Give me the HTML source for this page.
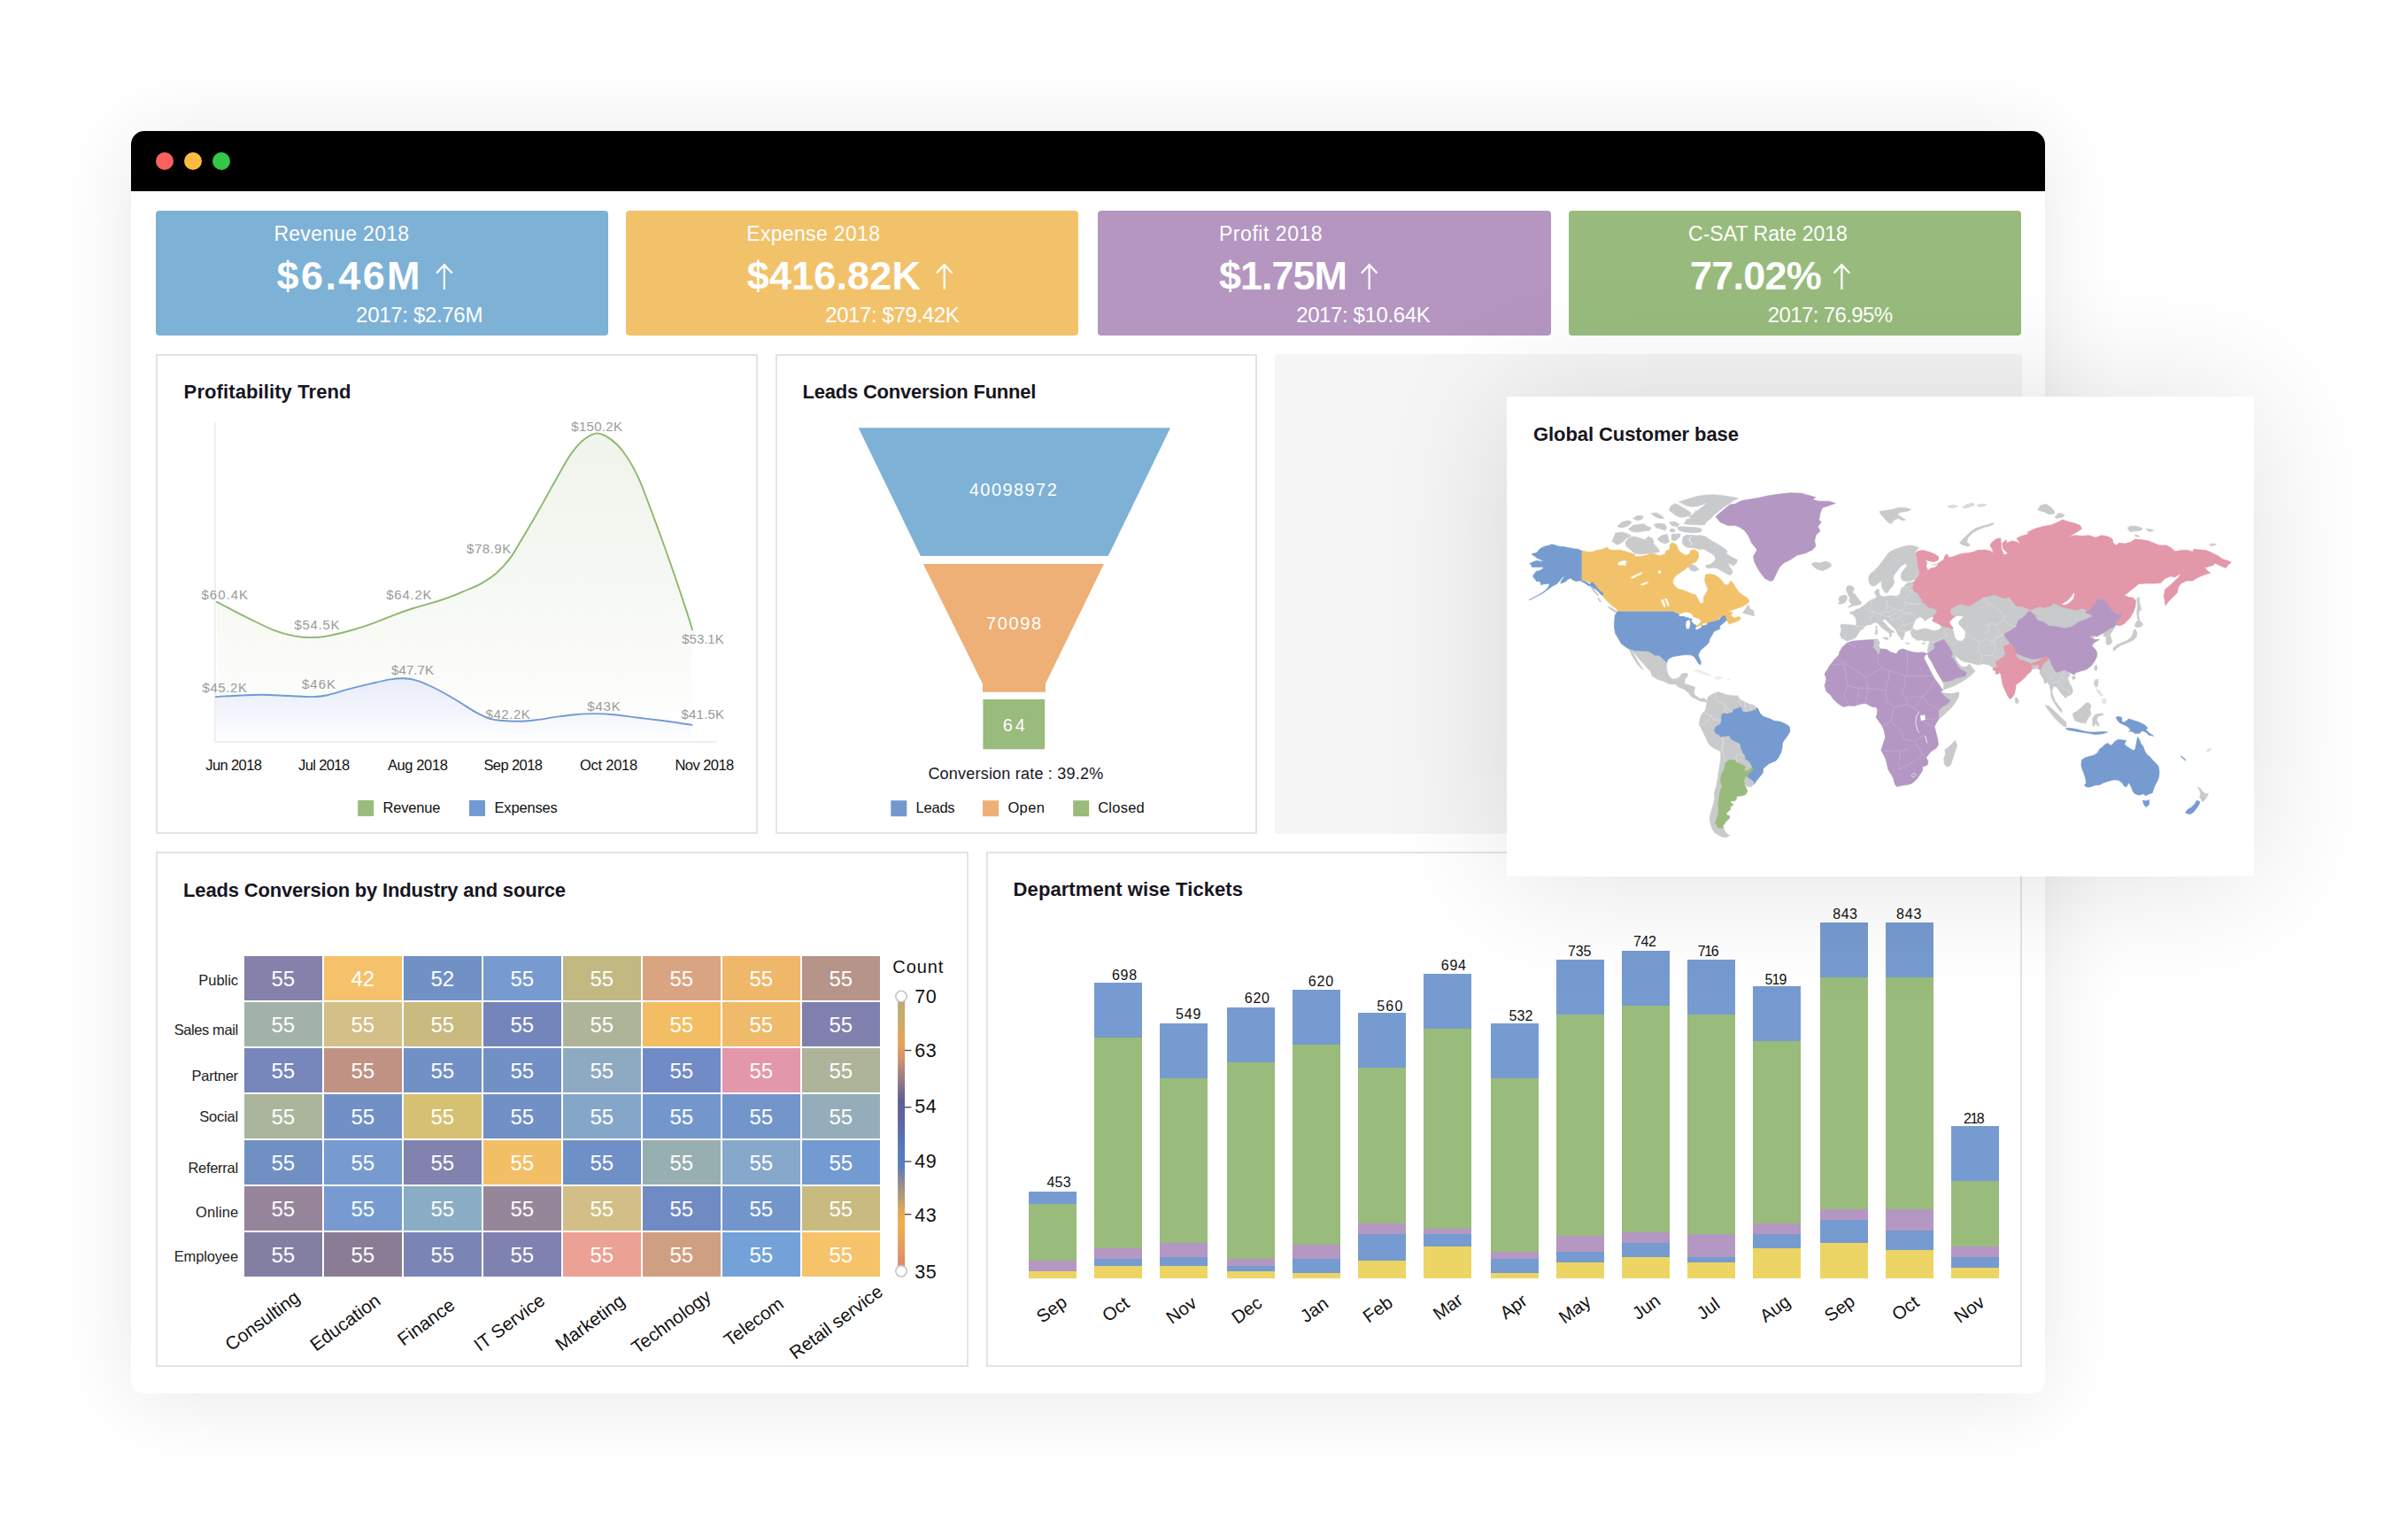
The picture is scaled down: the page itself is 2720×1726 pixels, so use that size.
<!DOCTYPE html>
<html lang="en"><head><meta charset="utf-8"><title>Dashboard</title>
<style>
html,body{margin:0;padding:0;background:#fff;}
body{width:2720px;height:1726px;position:relative;overflow:hidden;font-family:'Liberation Sans',Arial,sans-serif;}
.abs{position:absolute;box-sizing:border-box;}
#win{left:148px;top:148px;width:2162px;height:1425.5px;border-radius:15px;background:#fff;box-shadow:0 6px 95px rgba(0,0,0,0.095);}
#bar{left:148px;top:148px;width:2162px;height:68px;border-radius:15px 15px 0 0;background:#000;}
.dot{width:20px;height:20px;border-radius:50%;top:172px;}
.card{top:238px;height:141px;border-radius:4px;}
.panel{border:2px solid #e3e3e3;background:#fff;}
#grey{left:1440px;top:400px;width:844px;height:541.5px;background:#f5f5f5;}
#mapcard{left:1702px;top:448px;width:844px;height:542px;background:#fff;box-shadow:0 2px 140px rgba(0,0,0,0.12);}
svg text{font-family:'Liberation Sans',Arial,sans-serif;}
</style></head><body>
<div id="win" class="abs"></div>
<div id="bar" class="abs"></div>
<div class="abs dot" style="left:176px;background:#fc615d"></div>
<div class="abs dot" style="left:208px;background:#fdbc40"></div>
<div class="abs dot" style="left:240px;background:#34c749"></div>
<div class="abs card" style="left:176px;width:511px;background:#7eb1d6"></div>
<div class="abs card" style="left:707px;width:511px;background:#f2c26b"></div>
<div class="abs card" style="left:1240px;width:511.5px;background:#b496c1"></div>
<div class="abs card" style="left:1772px;width:511px;background:#98bb7d"></div>
<div class="abs panel" style="left:176px;top:400px;width:680px;height:541.5px"></div>
<div class="abs panel" style="left:876px;top:400px;width:544px;height:541.5px"></div>
<div id="grey" class="abs"></div>
<div class="abs panel" style="left:176px;top:962px;width:918px;height:581.5px"></div>
<div class="abs panel" style="left:1114px;top:962px;width:1170px;height:581.5px"></div>
<svg class="abs" style="left:0;top:0" width="2720" height="1726" viewBox="0 0 2720 1726">
<text x="309.4" y="272.0" font-size="23" fill="#fff" textLength="152.7" lengthAdjust="spacing">Revenue 2018</text>
<text x="312.6" y="326.8" font-size="45" fill="#fff" font-weight="700" textLength="162.0" lengthAdjust="spacing">$6.46M</text>
<text x="402.1" y="364.2" font-size="24" fill="#fff" textLength="143.3" lengthAdjust="spacing">2017: $2.76M</text>
<path d="M501.9 327 V299.5 M493.1 308.5 L501.9 299.2 L510.7 308.5" fill="none" stroke="#fff" stroke-width="2.2" stroke-linejoin="miter"/>
<text x="843.2" y="272.0" font-size="23" fill="#fff" textLength="150.8" lengthAdjust="spacing">Expense 2018</text>
<text x="843.7" y="326.8" font-size="45" fill="#fff" font-weight="700" textLength="196.3" lengthAdjust="spacing">$416.82K</text>
<text x="932.2" y="364.2" font-size="24" fill="#fff" textLength="151.5" lengthAdjust="spacing">2017: $79.42K</text>
<path d="M1066.7 327 V299.5 M1057.9 308.5 L1066.7 299.2 L1075.5 308.5" fill="none" stroke="#fff" stroke-width="2.2" stroke-linejoin="miter"/>
<text x="1377.0" y="272.0" font-size="23" fill="#fff" textLength="116.6" lengthAdjust="spacing">Profit 2018</text>
<text x="1377.0" y="326.8" font-size="45" fill="#fff" font-weight="700" textLength="145.0" lengthAdjust="spacing">$1.75M</text>
<text x="1464.2" y="364.2" font-size="24" fill="#fff" textLength="151.5" lengthAdjust="spacing">2017: $10.64K</text>
<path d="M1546.7 327 V299.5 M1537.9 308.5 L1546.7 299.2 L1555.5 308.5" fill="none" stroke="#fff" stroke-width="2.2" stroke-linejoin="miter"/>
<text x="1907.0" y="272.0" font-size="23" fill="#fff" textLength="179.9" lengthAdjust="spacing">C-SAT Rate 2018</text>
<text x="1909.0" y="326.8" font-size="45" fill="#fff" font-weight="700" textLength="148.7" lengthAdjust="spacing">77.02%</text>
<text x="1996.7" y="364.2" font-size="24" fill="#fff" textLength="141.5" lengthAdjust="spacing">2017: 76.95%</text>
<path d="M2080.4 327 V299.5 M2071.6 308.5 L2080.4 299.2 L2089.2 308.5" fill="none" stroke="#fff" stroke-width="2.2" stroke-linejoin="miter"/>
<text x="207.6" y="450.0" font-size="22" fill="#17151f" font-weight="700" textLength="188.9" lengthAdjust="spacing">Profitability Trend</text>
<defs><linearGradient id="gg" x1="0" y1="489" x2="0" y2="838" gradientUnits="userSpaceOnUse"><stop offset="0" stop-color="#f0f4ec"/><stop offset="0.55" stop-color="#f7f9f4"/><stop offset="1" stop-color="#ffffff"/></linearGradient><linearGradient id="gb" x1="0" y1="766" x2="0" y2="838" gradientUnits="userSpaceOnUse"><stop offset="0" stop-color="#e8ecf9"/><stop offset="0.6" stop-color="#f4f6fc"/><stop offset="1" stop-color="#ffffff"/></linearGradient></defs>
<path d="M245.0 679.9C248.6 681.8 259.5 687.6 266.8 691.4C274.1 695.2 281.6 699.0 289.0 702.5C296.4 706.0 303.9 709.9 311.3 712.6C318.7 715.3 326.8 717.4 333.5 718.6C340.2 719.9 345.4 720.1 351.3 720.1C357.2 720.1 360.9 720.1 369.1 718.6C377.3 717.1 391.4 713.5 400.3 711.0C409.2 708.5 415.1 706.4 422.5 703.7C429.9 701.0 437.4 697.6 444.8 694.8C452.2 692.0 459.6 689.4 467.0 687.0C474.4 684.6 481.9 683.0 489.3 680.7C496.7 678.4 505.2 675.6 511.5 673.2C517.8 670.8 521.9 668.7 527.0 666.5C532.1 664.3 536.8 662.9 542.3 659.8C547.8 656.7 554.5 652.8 560.0 648.0C565.5 643.2 571.1 637.0 575.6 631.3C580.1 625.5 581.2 622.8 586.8 613.5C592.4 604.2 601.6 588.7 609.0 575.7C616.4 562.7 625.4 546.1 631.3 535.7C637.2 525.3 640.1 519.7 644.6 513.4C649.1 507.1 653.2 501.8 658.0 497.8C662.8 493.8 668.3 490.0 673.5 489.6C678.7 489.2 683.9 492.0 689.1 495.6C694.3 499.2 699.5 504.1 704.7 511.2C709.9 518.2 715.5 527.9 720.3 537.9C725.1 547.9 728.8 558.7 733.6 571.3C738.4 583.9 744.0 599.0 749.2 613.5C754.4 628.0 760.3 645.0 764.8 658.0C769.2 671.0 773.0 682.5 775.9 691.4C778.8 700.3 781.1 708.1 782.1 711.4L782.1 837 L245 837 Z" fill="url(#gg)"/>
<path d="M243.9 787.1C248.5 786.8 262.6 785.9 271.3 785.5C280.0 785.1 286.8 784.6 295.9 784.7C305.0 784.8 316.5 785.6 326.1 786.0C335.7 786.4 346.2 787.2 353.5 787.1C360.8 787.0 363.5 786.6 369.9 785.2C376.3 783.8 383.7 781.1 391.9 778.9C400.1 776.7 411.1 774.0 419.3 772.1C427.5 770.2 435.0 768.4 441.2 767.4C447.4 766.4 451.3 766.1 456.3 766.3C461.3 766.5 465.6 767.0 471.3 768.8C477.0 770.6 483.2 773.4 490.5 777.0C497.8 780.6 507.4 786.1 515.2 790.7C523.0 795.3 530.7 800.9 537.1 804.4C543.5 807.9 548.6 810.2 553.6 811.8C558.6 813.4 562.3 813.5 567.3 814.0C572.3 814.5 577.3 814.9 583.7 814.8C590.1 814.7 598.3 814.0 605.6 813.2C612.9 812.4 620.3 810.9 627.6 809.9C634.9 808.9 642.2 807.8 649.5 807.2C656.8 806.6 664.1 806.1 671.4 806.1C678.7 806.1 685.1 806.4 693.3 807.2C701.5 808.0 711.6 809.6 720.8 810.7C729.9 811.8 740.9 813.1 748.2 814.0C755.5 814.9 759.0 815.4 764.6 816.2C770.2 817.0 778.8 818.5 781.6 818.9L781.6 837 L243.9 837 Z" fill="url(#gb)"/>
<path d="M242.9 477 V838 H810" fill="none" stroke="#eeeeee" stroke-width="2"/>
<path d="M245.0 679.9C248.6 681.8 259.5 687.6 266.8 691.4C274.1 695.2 281.6 699.0 289.0 702.5C296.4 706.0 303.9 709.9 311.3 712.6C318.7 715.3 326.8 717.4 333.5 718.6C340.2 719.9 345.4 720.1 351.3 720.1C357.2 720.1 360.9 720.1 369.1 718.6C377.3 717.1 391.4 713.5 400.3 711.0C409.2 708.5 415.1 706.4 422.5 703.7C429.9 701.0 437.4 697.6 444.8 694.8C452.2 692.0 459.6 689.4 467.0 687.0C474.4 684.6 481.9 683.0 489.3 680.7C496.7 678.4 505.2 675.6 511.5 673.2C517.8 670.8 521.9 668.7 527.0 666.5C532.1 664.3 536.8 662.9 542.3 659.8C547.8 656.7 554.5 652.8 560.0 648.0C565.5 643.2 571.1 637.0 575.6 631.3C580.1 625.5 581.2 622.8 586.8 613.5C592.4 604.2 601.6 588.7 609.0 575.7C616.4 562.7 625.4 546.1 631.3 535.7C637.2 525.3 640.1 519.7 644.6 513.4C649.1 507.1 653.2 501.8 658.0 497.8C662.8 493.8 668.3 490.0 673.5 489.6C678.7 489.2 683.9 492.0 689.1 495.6C694.3 499.2 699.5 504.1 704.7 511.2C709.9 518.2 715.5 527.9 720.3 537.9C725.1 547.9 728.8 558.7 733.6 571.3C738.4 583.9 744.0 599.0 749.2 613.5C754.4 628.0 760.3 645.0 764.8 658.0C769.2 671.0 773.0 682.5 775.9 691.4C778.8 700.3 781.1 708.1 782.1 711.4" fill="none" stroke="#8cb86f" stroke-width="1.9" stroke-linecap="round"/>
<path d="M243.9 787.1C248.5 786.8 262.6 785.9 271.3 785.5C280.0 785.1 286.8 784.6 295.9 784.7C305.0 784.8 316.5 785.6 326.1 786.0C335.7 786.4 346.2 787.2 353.5 787.1C360.8 787.0 363.5 786.6 369.9 785.2C376.3 783.8 383.7 781.1 391.9 778.9C400.1 776.7 411.1 774.0 419.3 772.1C427.5 770.2 435.0 768.4 441.2 767.4C447.4 766.4 451.3 766.1 456.3 766.3C461.3 766.5 465.6 767.0 471.3 768.8C477.0 770.6 483.2 773.4 490.5 777.0C497.8 780.6 507.4 786.1 515.2 790.7C523.0 795.3 530.7 800.9 537.1 804.4C543.5 807.9 548.6 810.2 553.6 811.8C558.6 813.4 562.3 813.5 567.3 814.0C572.3 814.5 577.3 814.9 583.7 814.8C590.1 814.7 598.3 814.0 605.6 813.2C612.9 812.4 620.3 810.9 627.6 809.9C634.9 808.9 642.2 807.8 649.5 807.2C656.8 806.6 664.1 806.1 671.4 806.1C678.7 806.1 685.1 806.4 693.3 807.2C701.5 808.0 711.6 809.6 720.8 810.7C729.9 811.8 740.9 813.1 748.2 814.0C755.5 814.9 759.0 815.4 764.6 816.2C770.2 817.0 778.8 818.5 781.6 818.9" fill="none" stroke="#6f9bd8" stroke-width="1.9" stroke-linecap="round"/>
<text x="227.4" y="677.0" font-size="15" fill="#9a9a9a" textLength="52.7" lengthAdjust="spacing">$60.4K</text>
<text x="332.4" y="711.4" font-size="15" fill="#9a9a9a" textLength="51.2" lengthAdjust="spacing">$54.5K</text>
<text x="436.3" y="676.5" font-size="15" fill="#9a9a9a" textLength="51.2" lengthAdjust="spacing">$64.2K</text>
<text x="527.1" y="624.7" font-size="15" fill="#9a9a9a" textLength="50.1" lengthAdjust="spacing">$78.9K</text>
<text x="645.3" y="486.7" font-size="15" fill="#9a9a9a" textLength="57.6" lengthAdjust="spacing">$150.2K</text>
<text x="770.3" y="726.6" font-size="15" fill="#9a9a9a" textLength="47.4" lengthAdjust="spacing">$53.1K</text>
<text x="228.5" y="781.5" font-size="15" fill="#9a9a9a" textLength="50.5" lengthAdjust="spacing">$45.2K</text>
<text x="340.9" y="777.8" font-size="15" fill="#9a9a9a" textLength="38.2" lengthAdjust="spacing">$46K</text>
<text x="442.1" y="761.5" font-size="15" fill="#9a9a9a" textLength="47.9" lengthAdjust="spacing">$47.7K</text>
<text x="548.6" y="811.8" font-size="15" fill="#9a9a9a" textLength="50.2" lengthAdjust="spacing">$42.2K</text>
<text x="663.2" y="802.5" font-size="15" fill="#9a9a9a" textLength="37.6" lengthAdjust="spacing">$43K</text>
<text x="769.5" y="811.8" font-size="15" fill="#9a9a9a" textLength="48.6" lengthAdjust="spacing">$41.5K</text>
<text x="232.3" y="870.2" font-size="16.5" fill="#111" textLength="63.6" lengthAdjust="spacing">Jun 2018</text>
<text x="337.0" y="870.2" font-size="16.5" fill="#111" textLength="58.1" lengthAdjust="spacing">Jul 2018</text>
<text x="437.9" y="870.2" font-size="16.5" fill="#111" textLength="68.0" lengthAdjust="spacing">Aug 2018</text>
<text x="546.4" y="870.2" font-size="16.5" fill="#111" textLength="66.6" lengthAdjust="spacing">Sep 2018</text>
<text x="655.0" y="870.2" font-size="16.5" fill="#111" textLength="65.2" lengthAdjust="spacing">Oct 2018</text>
<text x="762.4" y="870.2" font-size="16.5" fill="#111" textLength="66.9" lengthAdjust="spacing">Nov 2018</text>
<rect x="404.2" y="903.9" width="18.0" height="18.0" fill="#98bc7c"/>
<text x="432.4" y="918.2" font-size="16.5" fill="#111" textLength="65.0" lengthAdjust="spacing">Revenue</text>
<rect x="530.0" y="903.9" width="18.0" height="18.0" fill="#7399d2"/>
<text x="558.5" y="918.2" font-size="16.5" fill="#111" textLength="71.3" lengthAdjust="spacing">Expenses</text>
<text x="906.6" y="450.0" font-size="22" fill="#17151f" font-weight="700" textLength="263.8" lengthAdjust="spacing">Leads Conversion Funnel</text>
<path d="M969.7 483.3 H1322 L1251.8 628 H1039.9 Z" fill="#7eb1d6"/>
<path d="M1042.8 637 H1247 L1180.9 772.5 V781.8 H1110 V772.5 Z" fill="#eeb077"/>
<rect x="1110.4" y="790.0" width="69.8" height="56.3" fill="#99bb7c"/>
<text x="1144.3" y="560.0" font-size="20" fill="#fff" text-anchor="middle" textLength="99.0" lengthAdjust="spacing">40098972</text>
<text x="1145.0" y="711.0" font-size="20" fill="#fff" text-anchor="middle" textLength="62.0" lengthAdjust="spacing">70098</text>
<text x="1145.3" y="826.2" font-size="20" fill="#fff" text-anchor="middle" textLength="25.0" lengthAdjust="spacing">64</text>
<text x="1048.4" y="880.0" font-size="18" fill="#17151f" textLength="197.8" lengthAdjust="spacing">Conversion rate : 39.2%</text>
<rect x="1006.3" y="904.2" width="18.0" height="18.0" fill="#7398cd"/>
<text x="1034.6" y="918.2" font-size="16.5" fill="#111" textLength="44.0" lengthAdjust="spacing">Leads</text>
<rect x="1110.0" y="904.2" width="18.0" height="18.0" fill="#eeb077"/>
<text x="1138.4" y="918.2" font-size="16.5" fill="#111" textLength="41.5" lengthAdjust="spacing">Open</text>
<rect x="1212.2" y="904.2" width="18.0" height="18.0" fill="#99bb7c"/>
<text x="1240.2" y="918.2" font-size="16.5" fill="#111" textLength="52.6" lengthAdjust="spacing">Closed</text>
<text x="207.1" y="1013.0" font-size="22" fill="#17151f" font-weight="700" textLength="432.0" lengthAdjust="spacing">Leads Conversion by Industry and source</text>
<rect x="276.0" y="1080.0" width="88.0" height="50.0" fill="#8482aa"/>
<rect x="366.0" y="1080.0" width="88.0" height="50.0" fill="#f5c26b"/>
<rect x="456.0" y="1080.0" width="88.0" height="50.0" fill="#7090c6"/>
<rect x="546.0" y="1080.0" width="88.0" height="50.0" fill="#779bd0"/>
<rect x="636.0" y="1080.0" width="88.0" height="50.0" fill="#c1b882"/>
<rect x="726.0" y="1080.0" width="88.0" height="50.0" fill="#d9a482"/>
<rect x="816.0" y="1080.0" width="88.0" height="50.0" fill="#efb76a"/>
<rect x="906.0" y="1080.0" width="88.0" height="50.0" fill="#b6948a"/>
<rect x="276.0" y="1132.0" width="88.0" height="50.0" fill="#a2b2a8"/>
<rect x="366.0" y="1132.0" width="88.0" height="50.0" fill="#d3bf88"/>
<rect x="456.0" y="1132.0" width="88.0" height="50.0" fill="#c9ba80"/>
<rect x="546.0" y="1132.0" width="88.0" height="50.0" fill="#7485bb"/>
<rect x="636.0" y="1132.0" width="88.0" height="50.0" fill="#aeb499"/>
<rect x="726.0" y="1132.0" width="88.0" height="50.0" fill="#f3bd63"/>
<rect x="816.0" y="1132.0" width="88.0" height="50.0" fill="#efba69"/>
<rect x="906.0" y="1132.0" width="88.0" height="50.0" fill="#7f80ad"/>
<rect x="276.0" y="1184.0" width="88.0" height="50.0" fill="#7787bb"/>
<rect x="366.0" y="1184.0" width="88.0" height="50.0" fill="#bf9283"/>
<rect x="456.0" y="1184.0" width="88.0" height="50.0" fill="#7090c6"/>
<rect x="546.0" y="1184.0" width="88.0" height="50.0" fill="#7090c6"/>
<rect x="636.0" y="1184.0" width="88.0" height="50.0" fill="#8eaac2"/>
<rect x="726.0" y="1184.0" width="88.0" height="50.0" fill="#708bc5"/>
<rect x="816.0" y="1184.0" width="88.0" height="50.0" fill="#e397aa"/>
<rect x="906.0" y="1184.0" width="88.0" height="50.0" fill="#aeb49a"/>
<rect x="276.0" y="1236.0" width="88.0" height="50.0" fill="#abb59c"/>
<rect x="366.0" y="1236.0" width="88.0" height="50.0" fill="#7090c6"/>
<rect x="456.0" y="1236.0" width="88.0" height="50.0" fill="#d6c072"/>
<rect x="546.0" y="1236.0" width="88.0" height="50.0" fill="#7090c6"/>
<rect x="636.0" y="1236.0" width="88.0" height="50.0" fill="#84a7c9"/>
<rect x="726.0" y="1236.0" width="88.0" height="50.0" fill="#7397cc"/>
<rect x="816.0" y="1236.0" width="88.0" height="50.0" fill="#7295cb"/>
<rect x="906.0" y="1236.0" width="88.0" height="50.0" fill="#95adba"/>
<rect x="276.0" y="1288.0" width="88.0" height="50.0" fill="#7090c4"/>
<rect x="366.0" y="1288.0" width="88.0" height="50.0" fill="#779bd0"/>
<rect x="456.0" y="1288.0" width="88.0" height="50.0" fill="#8282af"/>
<rect x="546.0" y="1288.0" width="88.0" height="50.0" fill="#f3bf66"/>
<rect x="636.0" y="1288.0" width="88.0" height="50.0" fill="#6f8fc7"/>
<rect x="726.0" y="1288.0" width="88.0" height="50.0" fill="#98afb2"/>
<rect x="816.0" y="1288.0" width="88.0" height="50.0" fill="#86a8ca"/>
<rect x="906.0" y="1288.0" width="88.0" height="50.0" fill="#749bd1"/>
<rect x="276.0" y="1340.0" width="88.0" height="50.0" fill="#96849b"/>
<rect x="366.0" y="1340.0" width="88.0" height="50.0" fill="#779bd0"/>
<rect x="456.0" y="1340.0" width="88.0" height="50.0" fill="#8aadc5"/>
<rect x="546.0" y="1340.0" width="88.0" height="50.0" fill="#96869a"/>
<rect x="636.0" y="1340.0" width="88.0" height="50.0" fill="#d2be86"/>
<rect x="726.0" y="1340.0" width="88.0" height="50.0" fill="#708ac4"/>
<rect x="816.0" y="1340.0" width="88.0" height="50.0" fill="#7295cb"/>
<rect x="906.0" y="1340.0" width="88.0" height="50.0" fill="#c9ba80"/>
<rect x="276.0" y="1392.0" width="88.0" height="50.0" fill="#837fa3"/>
<rect x="366.0" y="1392.0" width="88.0" height="50.0" fill="#8b7c95"/>
<rect x="456.0" y="1392.0" width="88.0" height="50.0" fill="#7a85b6"/>
<rect x="546.0" y="1392.0" width="88.0" height="50.0" fill="#7f82b0"/>
<rect x="636.0" y="1392.0" width="88.0" height="50.0" fill="#eba193"/>
<rect x="726.0" y="1392.0" width="88.0" height="50.0" fill="#cf9f82"/>
<rect x="816.0" y="1392.0" width="88.0" height="50.0" fill="#74a1d8"/>
<rect x="906.0" y="1392.0" width="88.0" height="50.0" fill="#f6c36b"/>
<g font-size="24" fill="#fff" text-anchor="middle">
<text x="319.8" y="1114.3">55</text>
<text x="409.8" y="1114.3">42</text>
<text x="499.8" y="1114.3">52</text>
<text x="589.8" y="1114.3">55</text>
<text x="679.8" y="1114.3">55</text>
<text x="769.8" y="1114.3">55</text>
<text x="859.8" y="1114.3">55</text>
<text x="949.8" y="1114.3">55</text>
<text x="319.8" y="1166.3">55</text>
<text x="409.8" y="1166.3">55</text>
<text x="499.8" y="1166.3">55</text>
<text x="589.8" y="1166.3">55</text>
<text x="679.8" y="1166.3">55</text>
<text x="769.8" y="1166.3">55</text>
<text x="859.8" y="1166.3">55</text>
<text x="949.8" y="1166.3">55</text>
<text x="319.8" y="1218.3">55</text>
<text x="409.8" y="1218.3">55</text>
<text x="499.8" y="1218.3">55</text>
<text x="589.8" y="1218.3">55</text>
<text x="679.8" y="1218.3">55</text>
<text x="769.8" y="1218.3">55</text>
<text x="859.8" y="1218.3">55</text>
<text x="949.8" y="1218.3">55</text>
<text x="319.8" y="1270.3">55</text>
<text x="409.8" y="1270.3">55</text>
<text x="499.8" y="1270.3">55</text>
<text x="589.8" y="1270.3">55</text>
<text x="679.8" y="1270.3">55</text>
<text x="769.8" y="1270.3">55</text>
<text x="859.8" y="1270.3">55</text>
<text x="949.8" y="1270.3">55</text>
<text x="319.8" y="1322.3">55</text>
<text x="409.8" y="1322.3">55</text>
<text x="499.8" y="1322.3">55</text>
<text x="589.8" y="1322.3">55</text>
<text x="679.8" y="1322.3">55</text>
<text x="769.8" y="1322.3">55</text>
<text x="859.8" y="1322.3">55</text>
<text x="949.8" y="1322.3">55</text>
<text x="319.8" y="1374.3">55</text>
<text x="409.8" y="1374.3">55</text>
<text x="499.8" y="1374.3">55</text>
<text x="589.8" y="1374.3">55</text>
<text x="679.8" y="1374.3">55</text>
<text x="769.8" y="1374.3">55</text>
<text x="859.8" y="1374.3">55</text>
<text x="949.8" y="1374.3">55</text>
<text x="319.8" y="1426.3">55</text>
<text x="409.8" y="1426.3">55</text>
<text x="499.8" y="1426.3">55</text>
<text x="589.8" y="1426.3">55</text>
<text x="679.8" y="1426.3">55</text>
<text x="769.8" y="1426.3">55</text>
<text x="859.8" y="1426.3">55</text>
<text x="949.8" y="1426.3">55</text>
</g>
<text x="224.3" y="1112.8" font-size="16.5" fill="#222" textLength="44.8" lengthAdjust="spacing">Public</text>
<text x="196.7" y="1169.1" font-size="16.5" fill="#222" textLength="72.4" lengthAdjust="spacing">Sales mail</text>
<text x="216.6" y="1220.6" font-size="16.5" fill="#222" textLength="52.5" lengthAdjust="spacing">Partner</text>
<text x="225.3" y="1266.6" font-size="16.5" fill="#222" textLength="43.8" lengthAdjust="spacing">Social</text>
<text x="212.4" y="1324.6" font-size="16.5" fill="#222" textLength="56.7" lengthAdjust="spacing">Referral</text>
<text x="221.1" y="1374.9" font-size="16.5" fill="#222" textLength="48.0" lengthAdjust="spacing">Online</text>
<text x="196.7" y="1424.7" font-size="16.5" fill="#222" textLength="72.4" lengthAdjust="spacing">Employee</text>
<text x="300.6" y="1497.6" font-size="20.8" fill="#111" text-anchor="middle" transform="rotate(-36.5 300.6 1497.6)">Consulting</text>
<text x="394.1" y="1499.6" font-size="20.8" fill="#111" text-anchor="middle" transform="rotate(-36.5 394.1 1499.6)">Education</text>
<text x="485.6" y="1499.1" font-size="20.8" fill="#111" text-anchor="middle" transform="rotate(-36.5 485.6 1499.1)">Finance</text>
<text x="579.6" y="1499.6" font-size="20.8" fill="#111" text-anchor="middle" transform="rotate(-36.5 579.6 1499.6)">IT Service</text>
<text x="670.6" y="1499.6" font-size="20.8" fill="#111" text-anchor="middle" transform="rotate(-36.5 670.6 1499.6)">Marketing</text>
<text x="762.3" y="1498.6" font-size="20.8" fill="#111" text-anchor="middle" transform="rotate(-36.5 762.3 1498.6)">Technology</text>
<text x="855.6" y="1498.6" font-size="20.8" fill="#111" text-anchor="middle" transform="rotate(-36.5 855.6 1498.6)">Telecom</text>
<text x="948.6" y="1499.1" font-size="20.8" fill="#111" text-anchor="middle" transform="rotate(-36.5 948.6 1499.1)">Retail service</text>
<text x="1008.3" y="1099.3" font-size="20" fill="#111" textLength="57.1" lengthAdjust="spacing">Count</text>
<defs><linearGradient id="hg" x1="0" y1="1125.5" x2="0" y2="1435.8" gradientUnits="userSpaceOnUse"><stop offset="0" stop-color="#b9aa7c"/><stop offset="0.08" stop-color="#c8ab6a"/><stop offset="0.17" stop-color="#e8a257"/><stop offset="0.22" stop-color="#d4966a"/><stop offset="0.3" stop-color="#9a7a85"/><stop offset="0.38" stop-color="#5f5e92"/><stop offset="0.46" stop-color="#5a67a3"/><stop offset="0.55" stop-color="#5578bb"/><stop offset="0.62" stop-color="#5a7db8"/><stop offset="0.67" stop-color="#8a8a95"/><stop offset="0.72" stop-color="#a89a7a"/><stop offset="0.78" stop-color="#e0a855"/><stop offset="0.83" stop-color="#f0b04a"/><stop offset="0.92" stop-color="#e59a62"/><stop offset="1" stop-color="#d9826c"/></linearGradient></defs>
<rect x="1014.1" y="1125.5" width="8.0" height="310.3" fill="url(#hg)"/>
<circle cx="1018" cy="1125.5" r="6.2" fill="#fff" stroke="#c4c4c4" stroke-width="1.6"/>
<circle cx="1018" cy="1435.8" r="6.2" fill="#fff" stroke="#c4c4c4" stroke-width="1.6"/>
<path d="M1022 1186.5 H1029.5" fill="none" stroke="#444" stroke-width="1.3"/>
<path d="M1022 1250.7 H1029.5" fill="none" stroke="#444" stroke-width="1.3"/>
<path d="M1022 1312 H1029.5" fill="none" stroke="#444" stroke-width="1.3"/>
<path d="M1022 1371.7 H1029.5" fill="none" stroke="#444" stroke-width="1.3"/>
<text x="1033.2" y="1133.3" font-size="21.5" fill="#111" textLength="24.4" lengthAdjust="spacing">70</text>
<text x="1033.2" y="1193.6" font-size="21.5" fill="#111" textLength="24.4" lengthAdjust="spacing">63</text>
<text x="1033.2" y="1257.0" font-size="21.5" fill="#111" textLength="24.4" lengthAdjust="spacing">54</text>
<text x="1033.2" y="1319.3" font-size="21.5" fill="#111" textLength="24.4" lengthAdjust="spacing">49</text>
<text x="1033.2" y="1379.5" font-size="21.5" fill="#111" textLength="24.4" lengthAdjust="spacing">43</text>
<text x="1033.2" y="1443.7" font-size="21.5" fill="#111" textLength="24.4" lengthAdjust="spacing">35</text>
<text x="1144.6" y="1012.0" font-size="22" fill="#17151f" font-weight="700" textLength="259.4" lengthAdjust="spacing">Department wise Tickets</text>
<g shape-rendering="crispEdges">
<rect x="1162.0" y="1346.0" width="54.0" height="14.0" fill="#769bd0"/>
<rect x="1162.0" y="1360.0" width="54.0" height="64.0" fill="#99bb7c"/>
<rect x="1162.0" y="1424.0" width="54.0" height="12.0" fill="#b497c2"/>
<rect x="1162.0" y="1436.0" width="54.0" height="8.0" fill="#ecd564"/>
<rect x="1236.0" y="1110.0" width="54.0" height="62.0" fill="#769bd0"/>
<rect x="1236.0" y="1172.0" width="54.0" height="238.0" fill="#99bb7c"/>
<rect x="1236.0" y="1410.0" width="54.0" height="12.0" fill="#b497c2"/>
<rect x="1236.0" y="1422.0" width="54.0" height="8.0" fill="#769bd0"/>
<rect x="1236.0" y="1430.0" width="54.0" height="14.0" fill="#ecd564"/>
<rect x="1310.0" y="1156.0" width="54.0" height="62.0" fill="#769bd0"/>
<rect x="1310.0" y="1218.0" width="54.0" height="186.0" fill="#99bb7c"/>
<rect x="1310.0" y="1404.0" width="54.0" height="16.0" fill="#b497c2"/>
<rect x="1310.0" y="1420.0" width="54.0" height="10.0" fill="#769bd0"/>
<rect x="1310.0" y="1430.0" width="54.0" height="14.0" fill="#ecd564"/>
<rect x="1386.0" y="1138.0" width="54.0" height="62.0" fill="#769bd0"/>
<rect x="1386.0" y="1200.0" width="54.0" height="222.0" fill="#99bb7c"/>
<rect x="1386.0" y="1422.0" width="54.0" height="8.0" fill="#b497c2"/>
<rect x="1386.0" y="1430.0" width="54.0" height="6.0" fill="#769bd0"/>
<rect x="1386.0" y="1436.0" width="54.0" height="8.0" fill="#ecd564"/>
<rect x="1460.0" y="1118.0" width="54.0" height="62.0" fill="#769bd0"/>
<rect x="1460.0" y="1180.0" width="54.0" height="226.0" fill="#99bb7c"/>
<rect x="1460.0" y="1406.0" width="54.0" height="16.0" fill="#b497c2"/>
<rect x="1460.0" y="1422.0" width="54.0" height="16.0" fill="#769bd0"/>
<rect x="1460.0" y="1438.0" width="54.0" height="6.0" fill="#ecd564"/>
<rect x="1534.0" y="1144.0" width="54.0" height="62.0" fill="#769bd0"/>
<rect x="1534.0" y="1206.0" width="54.0" height="176.0" fill="#99bb7c"/>
<rect x="1534.0" y="1382.0" width="54.0" height="12.0" fill="#b497c2"/>
<rect x="1534.0" y="1394.0" width="54.0" height="30.0" fill="#769bd0"/>
<rect x="1534.0" y="1424.0" width="54.0" height="20.0" fill="#ecd564"/>
<rect x="1608.0" y="1100.0" width="54.0" height="62.0" fill="#769bd0"/>
<rect x="1608.0" y="1162.0" width="54.0" height="226.0" fill="#99bb7c"/>
<rect x="1608.0" y="1388.0" width="54.0" height="6.0" fill="#b497c2"/>
<rect x="1608.0" y="1394.0" width="54.0" height="14.0" fill="#769bd0"/>
<rect x="1608.0" y="1408.0" width="54.0" height="36.0" fill="#ecd564"/>
<rect x="1684.0" y="1156.0" width="54.0" height="62.0" fill="#769bd0"/>
<rect x="1684.0" y="1218.0" width="54.0" height="196.0" fill="#99bb7c"/>
<rect x="1684.0" y="1414.0" width="54.0" height="8.0" fill="#b497c2"/>
<rect x="1684.0" y="1422.0" width="54.0" height="16.0" fill="#769bd0"/>
<rect x="1684.0" y="1438.0" width="54.0" height="6.0" fill="#ecd564"/>
<rect x="1758.0" y="1084.0" width="54.0" height="62.0" fill="#769bd0"/>
<rect x="1758.0" y="1146.0" width="54.0" height="250.0" fill="#99bb7c"/>
<rect x="1758.0" y="1396.0" width="54.0" height="18.0" fill="#b497c2"/>
<rect x="1758.0" y="1414.0" width="54.0" height="12.0" fill="#769bd0"/>
<rect x="1758.0" y="1426.0" width="54.0" height="18.0" fill="#ecd564"/>
<rect x="1832.0" y="1074.0" width="54.0" height="62.0" fill="#769bd0"/>
<rect x="1832.0" y="1136.0" width="54.0" height="256.0" fill="#99bb7c"/>
<rect x="1832.0" y="1392.0" width="54.0" height="12.0" fill="#b497c2"/>
<rect x="1832.0" y="1404.0" width="54.0" height="16.0" fill="#769bd0"/>
<rect x="1832.0" y="1420.0" width="54.0" height="24.0" fill="#ecd564"/>
<rect x="1906.0" y="1084.0" width="54.0" height="62.0" fill="#769bd0"/>
<rect x="1906.0" y="1146.0" width="54.0" height="248.0" fill="#99bb7c"/>
<rect x="1906.0" y="1394.0" width="54.0" height="26.0" fill="#b497c2"/>
<rect x="1906.0" y="1420.0" width="54.0" height="6.0" fill="#769bd0"/>
<rect x="1906.0" y="1426.0" width="54.0" height="18.0" fill="#ecd564"/>
<rect x="1980.0" y="1114.0" width="54.0" height="62.0" fill="#769bd0"/>
<rect x="1980.0" y="1176.0" width="54.0" height="206.0" fill="#99bb7c"/>
<rect x="1980.0" y="1382.0" width="54.0" height="12.0" fill="#b497c2"/>
<rect x="1980.0" y="1394.0" width="54.0" height="16.0" fill="#769bd0"/>
<rect x="1980.0" y="1410.0" width="54.0" height="34.0" fill="#ecd564"/>
<rect x="2056.0" y="1042.0" width="54.0" height="62.0" fill="#769bd0"/>
<rect x="2056.0" y="1104.0" width="54.0" height="262.0" fill="#99bb7c"/>
<rect x="2056.0" y="1366.0" width="54.0" height="12.0" fill="#b497c2"/>
<rect x="2056.0" y="1378.0" width="54.0" height="26.0" fill="#769bd0"/>
<rect x="2056.0" y="1404.0" width="54.0" height="40.0" fill="#ecd564"/>
<rect x="2130.0" y="1042.0" width="54.0" height="62.0" fill="#769bd0"/>
<rect x="2130.0" y="1104.0" width="54.0" height="262.0" fill="#99bb7c"/>
<rect x="2130.0" y="1366.0" width="54.0" height="24.0" fill="#b497c2"/>
<rect x="2130.0" y="1390.0" width="54.0" height="22.0" fill="#769bd0"/>
<rect x="2130.0" y="1412.0" width="54.0" height="32.0" fill="#ecd564"/>
<rect x="2204.0" y="1272.0" width="54.0" height="62.0" fill="#769bd0"/>
<rect x="2204.0" y="1334.0" width="54.0" height="74.0" fill="#99bb7c"/>
<rect x="2204.0" y="1408.0" width="54.0" height="12.0" fill="#b497c2"/>
<rect x="2204.0" y="1420.0" width="54.0" height="12.0" fill="#769bd0"/>
<rect x="2204.0" y="1432.0" width="54.0" height="12.0" fill="#ecd564"/>
</g>
<text x="1182.4" y="1341.0" font-size="16" fill="#111" textLength="27.2" lengthAdjust="spacing">453</text>
<text x="1255.9" y="1106.7" font-size="16" fill="#111" textLength="28.3" lengthAdjust="spacing">698</text>
<text x="1328.0" y="1151.2" font-size="16" fill="#111" textLength="28.3" lengthAdjust="spacing">549</text>
<text x="1405.7" y="1133.2" font-size="16" fill="#111" textLength="28.3" lengthAdjust="spacing">620</text>
<text x="1477.8" y="1113.8" font-size="16" fill="#111" textLength="28.3" lengthAdjust="spacing">620</text>
<text x="1555.3" y="1142.0" font-size="16" fill="#111" textLength="29.0" lengthAdjust="spacing">560</text>
<text x="1627.8" y="1096.1" font-size="16" fill="#111" textLength="28.2" lengthAdjust="spacing">694</text>
<text x="1704.5" y="1153.0" font-size="16" fill="#111" textLength="26.8" lengthAdjust="spacing">532</text>
<text x="1770.9" y="1079.9" font-size="16" fill="#111" textLength="26.5" lengthAdjust="spacing">735</text>
<text x="1845.1" y="1068.9" font-size="16" fill="#111" textLength="25.8" lengthAdjust="spacing">742</text>
<text x="1917.7" y="1079.5" font-size="16" fill="#111" textLength="24.0" lengthAdjust="spacing">716</text>
<text x="1993.6" y="1111.7" font-size="16" fill="#111" textLength="24.8" lengthAdjust="spacing">519</text>
<text x="2070.3" y="1037.8" font-size="16" fill="#111" textLength="27.6" lengthAdjust="spacing">843</text>
<text x="2142.0" y="1037.8" font-size="16" fill="#111" textLength="28.3" lengthAdjust="spacing">843</text>
<text x="2218.0" y="1268.6" font-size="16" fill="#111" textLength="23.7" lengthAdjust="spacing">218</text>
<text x="1191.9" y="1484.6" font-size="20.5" fill="#111" text-anchor="middle" transform="rotate(-36 1191.9 1484.6)">Sep</text>
<text x="1264.3" y="1484.6" font-size="20.5" fill="#111" text-anchor="middle" transform="rotate(-36 1264.3 1484.6)">Oct</text>
<text x="1338.5" y="1485.5" font-size="20.5" fill="#111" text-anchor="middle" transform="rotate(-36 1338.5 1485.5)">Nov</text>
<text x="1412.4" y="1485.5" font-size="20.5" fill="#111" text-anchor="middle" transform="rotate(-36 1412.4 1485.5)">Dec</text>
<text x="1488.7" y="1485.0" font-size="20.5" fill="#111" text-anchor="middle" transform="rotate(-36 1488.7 1485.0)">Jan</text>
<text x="1560.4" y="1484.6" font-size="20.5" fill="#111" text-anchor="middle" transform="rotate(-36 1560.4 1484.6)">Feb</text>
<text x="1639.6" y="1481.6" font-size="20.5" fill="#111" text-anchor="middle" transform="rotate(-36 1639.6 1481.6)">Mar</text>
<text x="1713.6" y="1481.6" font-size="20.5" fill="#111" text-anchor="middle" transform="rotate(-36 1713.6 1481.6)">Apr</text>
<text x="1783.0" y="1484.6" font-size="20.5" fill="#111" text-anchor="middle" transform="rotate(-36 1783.0 1484.6)">May</text>
<text x="1863.6" y="1481.9" font-size="20.5" fill="#111" text-anchor="middle" transform="rotate(-36 1863.6 1481.9)">Jun</text>
<text x="1933.5" y="1483.9" font-size="20.5" fill="#111" text-anchor="middle" transform="rotate(-36 1933.5 1483.9)">Jul</text>
<text x="2009.0" y="1483.9" font-size="20.5" fill="#111" text-anchor="middle" transform="rotate(-36 2009.0 1483.9)">Aug</text>
<text x="2082.1" y="1483.4" font-size="20.5" fill="#111" text-anchor="middle" transform="rotate(-36 2082.1 1483.4)">Sep</text>
<text x="2156.3" y="1483.4" font-size="20.5" fill="#111" text-anchor="middle" transform="rotate(-36 2156.3 1483.4)">Oct</text>
<text x="2228.6" y="1484.6" font-size="20.5" fill="#111" text-anchor="middle" transform="rotate(-36 2228.6 1484.6)">Nov</text>
</svg>
<div id="mapcard" class="abs"></div>
<svg class="abs" style="left:0;top:0" width="2720" height="1726" viewBox="0 0 2720 1726">
<text x="1732.0" y="497.7" font-size="22" fill="#17151f" font-weight="700" textLength="232.0" lengthAdjust="spacing">Global Customer base</text>
<g id="worldmap">
<path d="M1820.9 611.6L1824.7 602.3L1832.1 601.0L1839.6 603.5L1842.7 605.4L1837.1 607.9L1832.7 612.3L1827.1 615.4Z" fill="#c8cacc" stroke="#c8cacc" stroke-width="0.7" stroke-linejoin="round"/>
<path d="M1835.9 612.3L1839.6 607.9L1845.8 606.0L1852.1 607.9L1858.3 609.8L1862.0 606.0L1867.0 608.5L1868.3 614.8L1873.2 619.7L1874.5 623.5L1867.0 624.7L1859.5 625.3L1852.1 626.0L1845.8 624.7L1842.1 621.0L1837.1 617.2Z" fill="#c8cacc" stroke="#c8cacc" stroke-width="0.7" stroke-linejoin="round"/>
<path d="M1827.1 594.2L1832.1 589.8L1839.6 588.0L1843.3 589.8L1839.6 593.6L1834.6 595.4L1829.6 596.1Z" fill="#c8cacc" stroke="#c8cacc" stroke-width="0.7" stroke-linejoin="round"/>
<path d="M1839.6 597.3L1844.6 593.6L1852.1 592.3L1857.0 591.7L1860.8 594.8L1865.1 596.1L1863.3 599.2L1857.0 599.8L1850.8 601.0L1845.8 601.0L1841.5 599.2Z" fill="#c8cacc" stroke="#c8cacc" stroke-width="0.7" stroke-linejoin="round"/>
<path d="M1844.6 585.5L1849.6 582.4L1856.4 583.0L1854.6 586.7L1849.6 588.0Z" fill="#c8cacc" stroke="#c8cacc" stroke-width="0.7" stroke-linejoin="round"/>
<path d="M1865.1 579.9L1870.7 579.2L1877.0 582.4L1879.5 585.5L1874.5 585.5L1869.5 583.6Z" fill="#c8cacc" stroke="#c8cacc" stroke-width="0.7" stroke-linejoin="round"/>
<path d="M1868.3 592.3L1873.2 591.1L1880.7 592.3L1882.6 596.1L1880.7 599.2L1875.7 597.3L1870.7 596.1Z" fill="#c8cacc" stroke="#c8cacc" stroke-width="0.7" stroke-linejoin="round"/>
<path d="M1872.0 609.1L1877.0 604.8L1883.2 603.5L1884.5 608.5L1885.7 612.3L1880.7 614.1L1875.7 612.3Z" fill="#c8cacc" stroke="#c8cacc" stroke-width="0.7" stroke-linejoin="round"/>
<path d="M1888.2 603.5L1898.2 602.9L1896.9 607.3L1891.9 611.0L1888.2 609.8Z" fill="#c8cacc" stroke="#c8cacc" stroke-width="0.7" stroke-linejoin="round"/>
<path d="M1894.4 595.4L1900.6 594.8L1909.4 595.4L1918.1 596.1L1922.5 597.9L1920.6 601.0L1911.9 601.7L1903.1 601.0L1896.9 599.2Z" fill="#c8cacc" stroke="#c8cacc" stroke-width="0.7" stroke-linejoin="round"/>
<path d="M1885.7 589.8L1891.9 589.2L1896.9 592.3L1894.4 594.8L1888.2 593.6Z" fill="#c8cacc" stroke="#c8cacc" stroke-width="0.7" stroke-linejoin="round"/>
<path d="M1886.9 597.3L1891.9 597.9L1891.3 601.0L1886.3 600.4Z" fill="#c8cacc" stroke="#c8cacc" stroke-width="0.7" stroke-linejoin="round"/>
<path d="M1906.9 639.7L1910.6 637.2L1915.6 639.7L1919.3 643.4L1914.4 645.3L1909.4 644.0Z" fill="#c8cacc" stroke="#c8cacc" stroke-width="0.7" stroke-linejoin="round"/>
<path d="M1968.5 692.6L1972.9 685.8L1975.4 683.3L1976.6 687.6L1980.4 689.5L1981.6 695.7L1976.6 694.5L1972.9 693.5Z" fill="#c8cacc" stroke="#c8cacc" stroke-width="0.7" stroke-linejoin="round"/>
<path d="M1815.9 685.1L1819.7 686.4L1824.7 689.5L1826.5 692.2L1823.4 691.0L1819.0 688.3Z" fill="#c8cacc" stroke="#c8cacc" stroke-width="0.7" stroke-linejoin="round"/>
<path d="M1797.2 662.7L1799.7 663.3L1802.2 668.3L1806.0 672.1L1804.7 672.7L1801.0 668.9L1798.2 665.2Z" fill="#c8cacc" stroke="#c8cacc" stroke-width="0.7" stroke-linejoin="round"/>
<path d="M1804.7 675.2L1807.2 677.0L1808.7 680.2L1807.2 679.8L1805.3 677.0Z" fill="#c8cacc" stroke="#c8cacc" stroke-width="0.7" stroke-linejoin="round"/>
<path d="M1885.3 575.1L1887.8 571.2L1892.0 568.7L1896.2 570.5L1900.5 573.3L1904.7 575.4L1909.0 578.3L1910.4 580.4L1907.5 582.5L1903.3 583.9L1898.4 584.3L1893.4 582.5L1889.9 579.7L1886.7 577.6Z" fill="#c8cacc" stroke="#c8cacc" stroke-width="0.7" stroke-linejoin="round"/>
<path d="M1896.2 567.0L1901.9 565.2L1909.0 563.1L1917.4 560.6L1925.9 559.2L1935.8 558.8L1944.3 559.5L1951.4 560.6L1958.4 561.7L1963.4 563.1L1958.4 565.2L1954.9 567.7L1950.7 570.5L1946.4 573.3L1942.9 576.2L1939.4 579.0L1935.8 581.8L1933.7 584.6L1930.2 587.5L1926.6 590.3L1925.9 592.4L1921.7 593.1L1916.0 592.8L1909.0 592.4L1901.9 591.7L1904.0 589.2L1904.7 586.8L1910.4 585.3L1907.5 583.2L1911.8 581.8L1913.9 579.0L1914.6 576.9L1918.9 575.4L1923.1 572.6L1927.3 569.1L1923.1 570.5L1918.9 571.9L1914.6 572.6L1909.0 572.6L1904.7 571.9L1900.5 569.8Z" fill="#c8cacc" stroke="#c8cacc" stroke-width="0.7" stroke-linejoin="round"/>
<path d="M1900.1 611.5L1901.2 606.5L1904.7 604.4L1910.4 604.4L1916.0 605.1L1920.3 604.8L1925.9 605.8L1930.2 608.7L1934.4 611.5L1939.4 614.3L1944.3 617.2L1948.5 620.0L1951.4 623.5L1949.3 624.9L1953.5 627.8L1958.4 630.6L1963.0 632.7L1960.6 636.9L1957.7 639.1L1954.2 636.9L1951.4 635.9L1953.5 639.8L1956.3 644.0L1957.0 646.8L1954.2 649.7L1950.7 648.3L1947.1 646.1L1942.9 644.0L1940.1 641.9L1935.8 641.2L1930.2 641.9L1926.6 640.5L1927.3 638.4L1931.6 637.7L1935.8 634.8L1937.9 631.3L1936.5 627.8L1933.0 624.9L1928.8 622.8L1925.9 620.7L1923.1 620.0L1920.3 620.7L1916.0 619.3L1911.8 618.6L1907.5 618.6L1903.3 617.2L1900.8 614.3Z" fill="#c8cacc" stroke="#c8cacc" stroke-width="0.7" stroke-linejoin="round"/>
<path d="M1910.4 605.8L1907.9 608.7L1909.0 611.5L1911.1 613.6L1909.7 615.7" fill="none" stroke="#ffffff" stroke-width="0.9"/>
<path d="M1897.7 567.7L1904.0 571.2L1910.4 573.3L1917.4 572.6L1923.1 570.5L1927.3 568.5" fill="none" stroke="#ffffff" stroke-width="0.8"/>
<path d="M1904.7 574.7L1910.4 578.3L1913.9 578.3L1918.9 575.1" fill="none" stroke="#ffffff" stroke-width="0.8"/>
<path d="M1786.7 622.0L1792.3 623.2L1797.9 623.7L1803.5 621.6L1809.7 620.7L1815.3 618.2L1818.4 621.0L1823.4 621.6L1829.6 621.2L1835.9 622.8L1842.1 624.7L1847.1 626.6L1844.6 628.5L1852.1 628.7L1859.5 627.2L1864.5 625.3L1869.5 626.0L1874.5 627.8L1880.7 626.0L1882.0 622.2L1885.7 621.0L1886.3 614.8L1889.4 612.9L1893.8 615.4L1895.7 621.0L1899.4 624.7L1904.4 627.2L1908.1 626.0L1910.0 621.6L1914.4 621.0L1918.1 623.5L1918.7 629.7L1915.6 634.7L1910.6 636.6L1906.9 639.7L1903.1 643.4L1898.2 646.5L1893.8 649.6L1890.1 654.0L1889.4 658.4L1892.5 662.7L1895.7 665.2L1900.6 666.5L1905.6 668.3L1910.6 670.8L1915.6 672.1L1918.1 677.0L1920.6 682.0L1924.3 680.8L1924.3 674.6L1926.8 670.8L1929.3 665.8L1926.8 659.6L1925.6 654.6L1926.8 649.0L1931.8 648.4L1936.8 649.6L1941.8 652.7L1945.5 656.5L1948.0 660.2L1951.7 660.8L1955.5 655.9L1958.0 659.6L1961.1 664.6L1964.2 668.9L1969.2 672.7L1974.2 675.8L1976.0 679.5L1972.9 682.6L1967.9 685.1L1962.9 687.0L1956.7 688.9L1951.7 690.7L1956.7 691.4L1955.5 695.7L1959.2 698.2L1964.2 696.4L1966.7 698.8L1961.7 702.0L1956.7 703.8L1953.0 705.1L1951.7 702.0L1949.9 700.7L1949.2 695.7L1944.3 696.4L1940.5 699.5L1936.8 702.0L1931.8 703.2L1926.8 705.7L1921.8 708.8L1916.8 710.4L1914.4 708.2L1918.1 705.7L1921.8 702.0L1919.3 698.8L1914.4 697.6L1909.4 694.5L1904.4 691.4L1898.2 693.2L1894.4 692.2L1889.4 690.7L1882.0 690.4L1827.1 690.4L1825.9 687.6L1819.7 683.3L1814.7 678.3L1810.9 673.9L1810.9 670.2L1807.2 667.1L1802.8 662.7L1797.9 658.4L1791.6 656.5L1786.7 655.2Z" fill="#f2c26b" stroke="#f2c26b" stroke-width="0.7" stroke-linejoin="round"/>
<path d="M1827.1 636.6L1830.9 634.4L1835.2 633.2L1837.7 634.9L1835.2 636.6L1836.5 638.7L1832.7 637.8L1829.6 638.4Z" fill="#ffffff" stroke="#ffffff" stroke-width="0.7" stroke-linejoin="round"/>
<path d="M1842.1 652.7L1845.8 650.3L1851.4 647.9L1855.2 646.6L1852.7 648.9L1848.3 650.9L1844.6 653.1Z" fill="#ffffff" stroke="#ffffff" stroke-width="0.7" stroke-linejoin="round"/>
<path d="M1853.3 660.2L1858.3 658.1L1862.0 657.7L1858.9 659.6L1854.6 661.1Z" fill="#ffffff" stroke="#ffffff" stroke-width="0.7" stroke-linejoin="round"/>
<path d="M1876.4 678.0L1878.0 677.0L1880.0 680.8L1881.2 685.3L1880.0 685.8L1878.0 682.0Z" fill="#ffffff" stroke="#ffffff" stroke-width="0.7" stroke-linejoin="round"/>
<path d="M1880.7 676.8L1882.3 676.3L1884.5 680.8L1885.2 684.5L1884.0 684.1L1882.3 680.2Z" fill="#ffffff" stroke="#ffffff" stroke-width="0.7" stroke-linejoin="round"/>
<path d="M1873.2 645.3L1875.7 644.7L1875.7 647.1L1873.5 647.4Z" fill="#ffffff" stroke="#ffffff" stroke-width="0.7" stroke-linejoin="round"/>
<path d="M1786.3 622.1L1782.4 620.3L1778.3 620.0L1773.0 618.9L1767.1 617.7L1762.4 617.4L1758.3 616.5L1755.3 615.3L1752.1 615.0L1748.9 616.5L1745.3 617.1L1742.4 618.3L1738.9 620.3L1737.1 623.0L1734.7 624.7L1730.9 625.3L1730.6 626.5L1733.5 628.3L1736.5 630.6L1740.0 632.1L1744.7 633.6L1740.0 634.2L1735.9 633.3L1731.8 634.8L1727.7 636.5L1730.0 638.3L1730.3 640.4L1734.7 640.6L1739.4 640.6L1742.7 640.1L1743.0 642.4L1739.4 644.5L1735.3 645.4L1733.5 647.7L1731.5 650.7L1732.7 653.0L1734.7 654.8L1735.3 656.6L1738.3 656.6L1740.6 658.3L1740.6 660.7L1743.6 659.8L1747.1 659.5L1750.6 658.9L1749.2 663.0L1745.0 667.7L1740.9 670.2L1737.7 672.3L1734.1 674.1L1729.4 676.7L1727.1 677.8L1730.0 676.6L1734.7 674.1L1738.6 672.3L1742.7 669.9L1746.8 667.2L1750.9 664.1L1754.5 661.6L1758.3 659.8L1761.2 656.6L1764.8 652.1L1767.7 651.3L1766.5 652.7L1764.2 655.1L1762.7 658.9L1765.4 658.3L1768.9 656.6L1771.3 654.2L1773.6 653.0L1776.6 655.1L1780.1 656.6L1783.6 656.0L1786.3 655.7L1788.9 656.3L1792.5 658.0L1795.4 660.1L1798.4 657.4L1800.7 659.5L1803.1 662.4L1805.4 665.4L1807.8 667.7L1810.7 669.8L1810.7 672.8L1808.4 671.6L1805.4 668.3L1802.5 665.4L1799.5 663.6L1796.6 661.9L1793.6 661.3L1790.7 658.9L1787.7 657.4L1786.3 656.8Z" fill="#769bd0" stroke="#769bd0" stroke-width="0.7" stroke-linejoin="round"/>
<path d="M1826.7 691.0L1889.6 691.0L1895.9 693.7L1904.6 697.4L1909.6 698.7L1913.9 700.6L1915.8 704.9L1915.2 709.9L1920.8 708.0L1927.0 704.9L1932.0 703.0L1937.0 701.8L1942.0 699.9L1945.1 696.2L1948.8 695.6L1950.1 700.6L1946.9 703.7L1944.5 705.5L1942.0 708.0L1943.2 709.9L1939.5 711.8L1935.7 713.6L1933.9 717.4L1931.4 721.1L1930.1 726.1L1927.0 729.2L1923.3 732.3L1920.2 735.4L1918.3 739.8L1919.5 743.5L1921.4 747.9L1920.8 751.0L1918.3 749.1L1915.8 744.8L1913.9 741.7L1909.6 739.8L1904.6 739.6L1899.6 740.0L1894.6 740.8L1889.6 741.7L1885.9 743.5L1883.4 746.0L1882.8 748.5L1879.7 746.0L1876.6 742.9L1873.4 740.4L1869.7 741.0L1866.0 738.6L1862.2 736.1L1854.8 735.8L1847.3 735.4L1839.8 732.9L1834.8 729.8L1831.1 726.7L1828.0 721.1L1824.9 716.1L1823.6 709.9L1823.6 702.4L1824.2 695.0Z" fill="#769bd0" stroke="#769bd0" stroke-width="0.7" stroke-linejoin="round"/>
<path d="M1896.5 695.6L1899.6 693.1L1904.6 691.8L1909.6 693.1L1912.1 695.6L1907.1 696.4L1902.1 695.6Z" fill="#ffffff" stroke="#ffffff" stroke-width="0.7" stroke-linejoin="round"/>
<path d="M1905.2 701.8L1908.3 700.6L1908.9 704.9L1907.7 709.9L1905.2 709.9L1904.6 705.5Z" fill="#ffffff" stroke="#ffffff" stroke-width="0.7" stroke-linejoin="round"/>
<path d="M1910.8 700.6L1915.2 698.7L1918.3 701.8L1917.0 705.5L1913.9 704.9L1912.1 703.0Z" fill="#ffffff" stroke="#ffffff" stroke-width="0.7" stroke-linejoin="round"/>
<path d="M1915.2 709.7L1920.8 706.8L1922.0 708.0L1916.4 711.1Z" fill="#ffffff" stroke="#ffffff" stroke-width="0.7" stroke-linejoin="round"/>
<path d="M1923.3 704.9L1927.6 703.9L1927.6 705.3L1923.5 706.3Z" fill="#ffffff" stroke="#ffffff" stroke-width="0.7" stroke-linejoin="round"/>
<path d="M1839.8 733.3L1847.3 735.7L1854.8 736.1L1862.2 736.3L1866.0 738.8L1869.7 741.3L1873.4 740.7L1876.6 743.2L1879.7 746.3L1882.8 748.8L1882.4 754.8L1883.4 759.7L1885.9 764.7L1889.6 767.2L1894.6 766.6L1898.4 763.5L1899.6 761.0L1905.8 760.4L1906.5 762.8L1903.3 767.2L1902.7 772.2L1905.8 773.4L1910.8 774.7L1914.6 776.6L1913.3 780.9L1913.9 784.7L1917.0 787.1L1920.8 789.6L1924.5 788.4L1927.6 790.9L1928.9 792.7L1925.1 792.7L1920.8 792.1L1915.8 789.6L1910.8 787.1L1907.1 782.2L1902.1 778.4L1897.1 776.6L1892.1 772.8L1885.9 772.8L1879.7 769.7L1872.2 767.2L1866.0 763.5L1864.7 758.5L1859.7 753.5L1854.8 747.9L1849.8 742.3L1846.0 737.3Z" fill="#c8cacc" stroke="#c8cacc" stroke-width="0.7" stroke-linejoin="round"/>
<path d="M1840.4 733.6L1843.5 735.4L1847.3 742.3L1851.6 749.8L1856.2 756.2L1854.8 755.7L1849.1 749.8L1844.8 742.9L1841.7 736.7Z" fill="#c8cacc" stroke="#c8cacc" stroke-width="0.7" stroke-linejoin="round"/>
<path d="M1912.7 757.9L1918.3 756.6L1925.8 759.7L1933.2 762.8L1931.4 763.7L1924.5 761.6L1917.0 758.7Z" fill="#ececed" stroke="#ececed" stroke-width="0.7" stroke-linejoin="round"/>
<path d="M1936.4 765.3L1942.0 764.5L1946.3 766.0L1942.0 767.2L1937.0 767.0Z" fill="#ececed" stroke="#ececed" stroke-width="0.7" stroke-linejoin="round"/>
<path d="M1950.7 767.2L1953.8 767.0L1953.8 768.0L1950.7 768.1Z" fill="#ececed" stroke="#ececed" stroke-width="0.7" stroke-linejoin="round"/>
<path d="M1928.3 790.9L1929.5 787.1L1934.5 784.0L1940.7 781.5L1945.7 783.4L1951.9 785.3L1958.2 785.9L1963.1 785.9L1965.6 790.3L1970.6 792.7L1975.6 795.2L1980.6 796.5L1984.9 799.6L1986.8 803.3L1988.1 805.8L1991.8 809.6L1999.3 812.1L2004.3 814.6L2010.5 815.2L2016.7 817.7L2021.1 820.8L2021.9 825.8L2019.2 830.7L2015.5 835.7L2012.4 840.7L2011.7 848.2L2009.2 854.4L2004.3 859.4L1998.0 862.5L1993.0 866.9L2013.1 838.0L2013.1 844.0L2011.6 849.9L2008.6 855.9L2005.6 859.4L1998.6 861.9L1993.6 864.9L1991.6 868.4L1991.1 872.9L1988.1 876.8L1984.7 880.8L1982.7 883.8L1980.7 886.3L1978.2 888.8L1974.7 888.6L1971.2 887.3L1972.2 889.8L1973.7 893.8L1971.7 897.3L1967.7 898.8L1961.7 899.3L1960.9 903.8L1958.2 904.8L1955.2 904.3L1954.8 907.7L1957.7 908.2L1957.2 909.7L1954.8 910.7L1954.3 914.7L1951.8 916.7L1949.8 918.7L1950.3 920.7L1953.8 921.7L1953.3 924.2L1951.3 926.2L1948.8 928.7L1947.8 930.7L1945.8 932.7L1946.8 935.6L1948.8 939.6L1951.8 942.6L1953.8 943.6L1949.8 946.1L1945.8 945.6L1941.8 943.6L1936.8 940.6L1933.8 935.6L1932.3 930.7L1931.3 925.7L1931.8 920.7L1933.3 915.7L1935.3 908.7L1936.8 901.8L1936.3 895.8L1938.8 887.8L1940.3 879.8L1941.3 871.9L1942.8 863.9L1943.8 855.9L1943.8 849.4L1941.8 847.9L1935.8 845.0L1930.8 841.0L1927.8 835.0L1925.8 830.0L1935.7 844.5L1930.7 840.7L1927.6 834.5L1924.5 828.3L1922.0 823.3L1919.5 818.3L1920.2 812.1L1922.0 807.1L1926.4 802.1L1927.6 797.1Z" fill="#c8cacc" stroke="#c8cacc" stroke-width="0.7" stroke-linejoin="round"/>
<path d="M1984.9 799.6L1979.3 803.3L1973.1 804.6L1968.1 804.0L1966.3 798.4L1963.1 800.2L1958.2 801.5L1956.9 804.6L1951.9 806.5L1945.7 805.8L1944.5 809.6L1944.5 814.6L1943.2 818.3L1938.8 820.2L1936.4 824.5L1938.2 828.3L1942.0 830.1L1943.2 832.6L1948.2 831.4L1953.2 830.7L1955.7 835.1L1960.6 837.6L1965.6 840.1L1966.9 844.5L1970.6 846.9L1971.2 851.9L1971.9 856.9L1966.2 844.0L1969.7 845.9L1971.2 849.4L1970.2 852.9L1971.2 857.4L1974.7 858.9L1977.2 861.9L1978.7 864.9L1980.2 868.4L1978.7 870.9L1975.7 873.9L1973.2 876.8L1975.7 878.8L1978.7 880.8L1981.7 882.8L1981.2 885.8L1982.7 883.8L1984.7 880.8L1988.1 876.8L1991.1 872.9L1991.6 868.4L1993.6 864.9L1998.6 861.9L2005.6 859.4L2008.6 855.9L2011.6 849.9L2013.1 844.0L2013.1 838.0L1993.0 866.9L1998.0 862.5L2004.3 859.4L2009.2 854.4L2011.7 848.2L2012.4 840.7L2015.5 835.7L2019.2 830.7L2021.9 825.8L2021.1 820.8L2016.7 817.7L2010.5 815.2L2004.3 814.6L1999.3 812.1L1991.8 809.6L1988.1 805.8L1986.8 803.3Z" fill="#769bd0" stroke="#769bd0" stroke-width="0.7" stroke-linejoin="round"/>
<path d="M1951.3 858.9L1955.7 858.4L1959.7 858.9L1962.7 861.4L1966.7 863.4L1970.7 865.4L1971.7 866.9L1969.7 869.9L1972.2 870.9L1975.7 869.9L1978.2 867.4L1980.2 868.4L1979.7 870.4L1976.7 872.9L1974.2 875.3L1972.2 877.8L1970.9 881.8L1970.2 886.8L1972.2 889.8L1973.7 893.8L1971.7 897.3L1967.7 898.8L1961.7 899.3L1960.9 903.8L1958.2 904.8L1955.2 904.3L1954.8 907.7L1957.7 908.2L1957.2 909.7L1954.8 910.7L1954.3 914.7L1951.8 916.7L1949.8 918.7L1950.3 920.7L1953.8 921.7L1953.3 924.2L1951.3 926.2L1948.8 928.7L1947.8 930.7L1945.8 932.7L1946.8 935.6L1939.8 934.7L1939.3 931.7L1936.8 929.7L1937.8 925.7L1939.8 920.7L1940.3 914.7L1939.8 908.7L1940.8 902.8L1941.3 897.8L1942.3 892.8L1944.8 887.8L1943.3 880.8L1944.8 873.9L1947.8 868.9L1948.3 863.9Z" fill="#98bb7d" stroke="#98bb7d" stroke-width="0.7" stroke-linejoin="round"/>
<path d="M1938.2 784.7L1937.6 789.6L1940.7 792.7L1946.9 794.0L1949.4 798.4L1947.6 803.3L1945.7 805.8" fill="none" stroke="#e6e7e8" stroke-width="0.6"/>
<path d="M1949.4 798.4L1954.4 802.7L1957.5 804.6" fill="none" stroke="#e6e7e8" stroke-width="0.6"/>
<path d="M1963.1 785.9L1964.4 792.1L1966.9 795.9L1966.3 798.4" fill="none" stroke="#e6e7e8" stroke-width="0.6"/>
<path d="M1970.6 792.7L1971.2 799.6L1972.5 804.6" fill="none" stroke="#e6e7e8" stroke-width="0.6"/>
<path d="M1976.8 795.9L1978.1 803.3" fill="none" stroke="#e6e7e8" stroke-width="0.6"/>
<path d="M1981.8 797.1L1983.1 802.7" fill="none" stroke="#e6e7e8" stroke-width="0.6"/>
<path d="M1922.0 807.1L1927.0 805.8L1932.6 808.3L1935.7 812.7L1943.2 813.9" fill="none" stroke="#e6e7e8" stroke-width="0.6"/>
<path d="M1932.6 808.3L1929.5 813.9L1923.3 818.9L1920.2 817.0" fill="none" stroke="#e6e7e8" stroke-width="0.6"/>
<path d="M1943.2 832.6L1946.3 834.5L1945.7 842.0L1944.5 847.6" fill="none" stroke="#e6e7e8" stroke-width="0.6"/>
<path d="M1945.8 832.0L1946.3 840.0L1944.8 845.0L1945.8 848.9L1948.8 858.9L1951.3 858.9" fill="none" stroke="#e6e7e8" stroke-width="0.6"/>
<path d="M1961.7 853.4L1965.7 851.9L1970.2 853.1L1971.2 857.4" fill="none" stroke="#e6e7e8" stroke-width="0.6"/>
<path d="M1961.7 853.4L1960.9 857.9L1962.7 861.4" fill="none" stroke="#e6e7e8" stroke-width="0.6"/>
<path d="M1972.7 877.3L1971.2 879.8L1970.2 883.8" fill="none" stroke="#e6e7e8" stroke-width="0.6"/>
<path d="M1943.8 849.9L1945.8 848.9" fill="none" stroke="#e6e7e8" stroke-width="0.6"/>
<path d="M1944.8 887.8L1942.3 892.8L1941.3 897.8L1940.8 902.8L1939.8 908.7L1940.3 914.7L1939.8 920.7L1937.8 925.7L1936.8 929.7" fill="none" stroke="#e6e7e8" stroke-width="0.6"/>
<path d="M1960.0 569.3L1967.5 565.5L1978.7 563.7L1986.2 562.4L1997.4 559.9L2009.8 558.1L2022.3 556.8L2034.7 557.2L2044.7 559.9L2050.9 561.8L2047.2 564.3L2054.7 566.2L2065.9 566.2L2073.4 568.4L2065.9 571.1L2058.4 573.6L2055.9 579.9L2054.7 587.3L2057.2 589.8L2053.4 594.8L2055.9 599.8L2050.9 604.8L2049.7 611.0L2050.9 617.2L2047.2 621.0L2039.7 624.7L2029.8 627.2L2022.3 632.2L2014.8 635.9L2009.8 640.9L2006.1 648.4L2003.0 655.2L1999.9 656.5L1993.6 653.4L1988.7 647.1L1984.9 640.9L1981.8 634.7L1980.6 628.5L1984.9 621.0L1978.7 613.5L1974.9 604.8L1970.0 598.6L1963.7 594.8L1960.0 593.6L1951.7 593.6L1943.0 589.8L1938.0 583.6L1946.7 576.1L1954.2 569.9Z" fill="#b497c2" stroke="#b497c2" stroke-width="0.7" stroke-linejoin="round"/>
<path d="M2046.0 637.2L2049.7 635.3L2055.9 635.9L2062.2 634.1L2067.1 635.9L2069.0 639.0L2064.7 642.2L2058.4 644.7L2052.2 642.8L2048.5 639.7Z" fill="#c8cacc" stroke="#c8cacc" stroke-width="0.7" stroke-linejoin="round"/>
<path d="M2123.2 577.4L2129.4 576.8L2134.4 576.1L2139.4 574.9L2144.4 573.4L2151.9 573.6L2158.7 575.5L2154.4 577.4L2146.9 578.6L2143.1 581.1L2146.9 583.6L2152.5 587.3L2149.4 588.0L2144.4 585.5L2139.4 587.3L2136.3 591.7L2131.9 589.2L2128.2 584.9L2124.5 581.1Z" fill="#c8cacc" stroke="#c8cacc" stroke-width="0.7" stroke-linejoin="round"/>
<path d="M2250.9 590.5L2246.5 592.3L2239.1 594.2L2231.6 596.7L2225.4 601.0L2220.4 606.0L2216.6 609.8L2213.5 612.9L2216.6 615.4L2222.9 617.2L2225.4 616.0L2221.6 612.3L2222.9 607.3L2227.9 602.3L2234.1 598.6L2241.6 595.4L2249.0 593.6L2252.2 591.7Z" fill="#c8cacc" stroke="#c8cacc" stroke-width="0.7" stroke-linejoin="round"/>
<path d="M2199.8 571.8L2205.4 570.5L2211.7 571.1L2207.9 573.6L2201.7 573.4Z" fill="#d9dadc" stroke="#d9dadc" stroke-width="0.7" stroke-linejoin="round"/>
<path d="M2216.6 572.6L2222.9 569.3L2229.1 568.0L2230.3 570.5L2224.1 573.0L2219.1 574.3Z" fill="#d9dadc" stroke="#d9dadc" stroke-width="0.7" stroke-linejoin="round"/>
<path d="M2232.8 570.5L2239.1 569.3L2244.1 569.9L2241.6 571.8L2235.3 572.4Z" fill="#d9dadc" stroke="#d9dadc" stroke-width="0.7" stroke-linejoin="round"/>
<path d="M2301.7 576.1L2304.8 571.1L2311.0 569.3L2316.0 572.4L2319.7 576.1L2321.0 579.9L2314.8 581.1L2308.5 578.0Z" fill="#c8cacc" stroke="#c8cacc" stroke-width="0.7" stroke-linejoin="round"/>
<path d="M2321.0 584.2L2326.0 579.2L2332.2 581.7L2329.7 584.2L2322.8 585.5Z" fill="#c8cacc" stroke="#c8cacc" stroke-width="0.7" stroke-linejoin="round"/>
<path d="M2403.2 596.1L2406.9 594.2L2414.4 594.8L2420.0 596.7L2418.2 599.2L2411.9 599.8L2405.7 600.4Z" fill="#c8cacc" stroke="#c8cacc" stroke-width="0.7" stroke-linejoin="round"/>
<path d="M2423.8 597.6L2429.4 597.9L2433.1 599.6L2428.1 600.4Z" fill="#c8cacc" stroke="#c8cacc" stroke-width="0.7" stroke-linejoin="round"/>
<path d="M2411.3 604.2L2415.7 604.8L2416.3 606.7L2412.5 606.0Z" fill="#c8cacc" stroke="#c8cacc" stroke-width="0.7" stroke-linejoin="round"/>
<path d="M2495.4 615.4L2499.8 613.9L2503.5 615.1L2499.1 616.6Z" fill="#c8cacc" stroke="#c8cacc" stroke-width="0.7" stroke-linejoin="round"/>
<path d="M2080.0 721.1L2079.7 718.8L2078.3 717.4L2079.3 714.1L2080.0 710.1L2079.0 708.1L2079.0 705.7L2082.0 705.1L2087.4 705.7L2092.7 706.1L2096.7 706.8L2097.0 703.4L2096.7 700.1L2095.4 696.7L2092.7 694.1L2089.4 692.7L2089.7 691.4L2092.7 691.1L2095.4 689.7L2096.0 688.4L2098.7 688.1L2101.4 686.7L2104.0 684.7L2107.4 682.7L2110.1 680.1L2112.7 678.0L2116.1 676.7L2118.7 676.0L2119.7 673.4L2118.1 670.7L2117.7 668.0L2119.4 666.4L2121.4 665.0L2122.4 666.7L2122.7 669.4L2123.4 672.0L2125.4 673.4L2128.7 674.0L2132.1 673.4L2135.4 672.7L2139.4 673.4L2143.4 673.0L2146.1 671.4L2146.8 668.7L2147.1 665.7L2148.4 663.7L2150.8 662.7L2152.8 660.0L2154.1 658.7L2156.8 658.0L2160.1 657.7L2162.1 657.0L2250.0 670.0L2330.0 670.0L2380.0 690.0L2350.0 750.0L2335.8 758.6L2338.3 762.3L2335.8 766.0L2337.0 771.0L2340.2 776.0L2341.4 781.0L2339.5 784.7L2335.8 786.0L2332.7 788.5L2331.4 786.0L2328.3 783.5L2325.8 779.7L2323.3 776.0L2319.6 774.8L2317.7 781.0L2319.6 787.2L2321.5 792.2L2324.6 795.9L2328.3 800.9L2329.6 804.7L2327.1 803.4L2323.3 798.4L2319.6 792.8L2317.1 787.2L2316.5 781.0L2315.2 774.8L2312.7 769.8L2311.5 771.6L2309.6 772.3L2308.4 767.3L2305.9 763.5L2304.0 759.8L2304.7 756.7L2299.7 754.8L2295.9 756.1L2287.2 756.1L2251.8 754.8L2246.8 751.0L2240.5 749.8L2234.3 751.0L2229.3 749.8L2225.6 748.6L2220.6 747.9L2215.6 746.1L2211.3 742.9L2207.5 739.2L2209.4 744.8L2212.5 749.8L2215.6 752.9L2219.4 753.5L2222.5 752.3L2224.4 749.8L2228.1 754.8L2231.2 757.9L2226.8 762.3L2220.6 767.2L2214.4 771.0L2206.9 774.7L2200.7 777.2L2195.1 779.1L2195.7 773.5L2193.8 768.5L2189.5 761.0L2185.1 753.5L2181.4 746.1L2178.3 739.2L2177.6 738.6L2177.5 733.5L2178.1 730.8L2178.8 728.1L2179.5 725.4L2178.1 723.4L2174.1 724.1L2170.1 722.8L2166.1 723.4L2162.8 721.4L2160.1 719.4L2158.8 716.8L2158.1 714.1L2159.4 711.8L2160.8 709.4L2159.4 710.8L2157.4 712.1L2154.8 712.8L2152.1 713.4L2150.8 716.1L2151.4 718.1L2149.4 719.4L2150.1 722.1L2148.1 722.8L2146.8 720.1L2144.8 718.1L2143.4 716.1L2142.4 713.4L2141.4 711.4L2139.4 709.4L2136.8 706.8L2134.1 704.1L2131.4 701.4L2129.4 699.4L2127.4 699.7L2126.7 701.4L2128.7 703.4L2130.7 706.1L2133.4 708.8L2136.1 711.4L2138.8 712.8L2139.8 714.1L2137.4 714.4L2135.7 715.1L2136.8 716.8L2136.1 718.8L2134.4 720.1L2135.1 718.1L2134.1 715.4L2132.1 713.4L2129.4 712.1L2126.7 710.1L2124.1 707.4L2122.1 705.1L2119.4 703.1L2116.7 703.4L2114.1 705.1L2111.4 705.7L2108.7 706.1L2106.0 708.1L2104.7 710.1L2101.4 712.1L2099.4 714.8L2098.0 717.4L2096.0 720.1L2092.7 722.1L2089.4 723.1L2086.7 724.1L2085.0 723.4L2082.7 721.8Z" fill="#c8cacc" stroke="#c8cacc" stroke-width="0.7" stroke-linejoin="round"/>
<path d="M2110.7 652.1L2112.6 648.4L2117.0 644.7L2122.0 639.7L2125.7 634.7L2129.4 629.7L2133.2 624.7L2138.2 621.6L2144.4 619.1L2150.6 617.2L2156.8 616.0L2164.3 617.2L2167.4 619.1L2163.7 622.2L2163.1 627.2L2164.9 632.2L2165.6 639.7L2167.4 645.9L2166.8 649.6L2164.3 653.4L2159.3 655.9L2154.4 656.5L2149.4 655.9L2146.9 652.1L2148.1 647.1L2151.9 642.2L2154.4 638.4L2151.9 636.6L2146.9 639.7L2143.1 644.7L2139.4 649.6L2138.2 653.4L2140.0 657.1L2138.2 661.5L2134.4 665.8L2131.9 669.6L2129.4 669.6L2126.9 665.8L2125.1 660.8L2125.7 655.9L2122.0 658.4L2118.2 661.5L2114.5 662.1L2111.4 658.4Z" fill="#c8cacc" stroke="#c8cacc" stroke-width="0.7" stroke-linejoin="round"/>
<path d="M2086.7 662.0L2090.0 661.4L2092.7 662.7L2094.7 664.7L2093.4 667.4L2092.7 669.4L2095.4 671.4L2098.0 674.7L2100.0 678.0L2102.7 680.1L2101.4 682.7L2098.0 683.4L2094.0 684.1L2090.0 685.4L2087.4 686.7L2089.4 684.1L2092.0 682.7L2090.0 680.7L2088.7 678.0L2090.0 675.4L2088.0 672.7L2086.7 669.4L2085.4 666.0Z" fill="#c8cacc" stroke="#c8cacc" stroke-width="0.7" stroke-linejoin="round"/>
<path d="M2077.3 674.7L2080.7 672.7L2084.7 672.0L2086.4 674.0L2086.0 677.4L2084.0 680.7L2080.0 682.1L2076.3 682.1L2078.0 679.4L2077.0 677.4Z" fill="#c8cacc" stroke="#c8cacc" stroke-width="0.7" stroke-linejoin="round"/>
<path d="M2127.4 719.8L2130.1 720.1L2132.7 720.4L2132.4 722.4L2130.1 722.1L2127.7 721.1Z" fill="#c8cacc" stroke="#c8cacc" stroke-width="0.7" stroke-linejoin="round"/>
<path d="M2118.4 711.4L2120.4 711.1L2120.7 714.1L2120.1 716.8L2118.4 716.4Z" fill="#c8cacc" stroke="#c8cacc" stroke-width="0.7" stroke-linejoin="round"/>
<path d="M2118.7 707.4L2120.1 707.1L2120.1 710.1L2119.1 710.1Z" fill="#c8cacc" stroke="#c8cacc" stroke-width="0.7" stroke-linejoin="round"/>
<path d="M2152.8 726.1L2156.8 726.4L2156.8 727.3L2152.8 727.0Z" fill="#c8cacc" stroke="#c8cacc" stroke-width="0.7" stroke-linejoin="round"/>
<path d="M2171.5 726.8L2174.1 725.8L2174.5 726.8L2172.1 727.8Z" fill="#c8cacc" stroke="#c8cacc" stroke-width="0.7" stroke-linejoin="round"/>
<path d="M2377.0 715.0L2382.0 711.3L2387.0 708.2L2389.5 707.6L2385.8 713.2L2383.3 716.9L2384.5 720.6L2385.8 725.6L2383.3 728.1L2379.5 728.1L2378.9 723.1L2379.5 719.4L2375.8 718.2Z" fill="#c8cacc" stroke="#c8cacc" stroke-width="0.7" stroke-linejoin="round"/>
<path d="M2413.8 675.8L2416.3 674.6L2416.9 682.0L2418.8 688.9L2416.3 689.5L2415.7 695.7L2416.9 700.7L2414.4 699.5L2413.8 692.0L2414.4 684.5Z" fill="#c8cacc" stroke="#c8cacc" stroke-width="0.7" stroke-linejoin="round"/>
<path d="M2413.2 702.0L2416.9 700.7L2420.6 705.1L2418.2 708.2L2413.8 708.8L2411.3 706.9Z" fill="#c8cacc" stroke="#c8cacc" stroke-width="0.7" stroke-linejoin="round"/>
<path d="M2411.9 710.7L2413.8 714.4L2413.2 719.4L2409.4 723.1L2404.5 725.6L2398.2 728.1L2392.0 730.0L2389.5 729.4L2395.7 726.3L2402.0 723.8L2406.9 720.6L2409.4 715.7L2410.1 711.9Z" fill="#c8cacc" stroke="#c8cacc" stroke-width="0.7" stroke-linejoin="round"/>
<path d="M2386.9 731.8L2391.9 729.3L2394.4 728.0L2393.7 730.5L2390.0 733.0L2387.5 735.5Z" fill="#c8cacc" stroke="#c8cacc" stroke-width="0.7" stroke-linejoin="round"/>
<path d="M2366.3 752.3L2368.2 751.1L2369.1 754.8L2367.2 758.2L2365.9 755.4Z" fill="#c8cacc" stroke="#c8cacc" stroke-width="0.7" stroke-linejoin="round"/>
<path d="M2340.2 764.8L2343.3 763.5L2344.5 766.0L2342.0 768.1Z" fill="#c8cacc" stroke="#c8cacc" stroke-width="0.7" stroke-linejoin="round"/>
<path d="M2276.0 789.1L2277.9 787.8L2280.4 791.6L2279.1 794.7L2276.6 794.1Z" fill="#c8cacc" stroke="#c8cacc" stroke-width="0.7" stroke-linejoin="round"/>
<path d="M2310.3 796.6L2314.6 797.8L2319.6 802.2L2324.6 807.1L2329.6 812.1L2333.9 815.9L2333.9 820.8L2330.8 820.2L2325.8 815.9L2320.8 810.9L2315.9 804.7L2312.1 799.7Z" fill="#c8cacc" stroke="#c8cacc" stroke-width="0.7" stroke-linejoin="round"/>
<path d="M2341.4 805.9L2345.8 803.4L2350.7 799.7L2355.7 794.7L2358.8 793.4L2362.0 796.6L2360.7 802.2L2362.0 807.1L2358.2 812.1L2355.7 817.1L2349.5 815.9L2343.9 814.0L2342.0 809.6Z" fill="#c8cacc" stroke="#c8cacc" stroke-width="0.7" stroke-linejoin="round"/>
<path d="M2363.8 810.9L2366.9 807.1L2374.4 805.9L2376.3 807.1L2369.4 809.6L2368.2 813.4L2371.3 818.4L2369.4 820.2L2366.9 815.9L2365.7 820.2L2363.8 819.6Z" fill="#c8cacc" stroke="#c8cacc" stroke-width="0.7" stroke-linejoin="round"/>
<path d="M2366.3 767.9L2370.1 767.3L2369.7 774.8L2366.9 776.2L2365.4 772.3Z" fill="#cfd0d2" stroke="#cfd0d2" stroke-width="0.7" stroke-linejoin="round"/>
<path d="M2374.4 789.1L2379.4 789.7L2378.4 794.9L2375.0 794.3Z" fill="#e4e5e6" stroke="#e4e5e6" stroke-width="0.7" stroke-linejoin="round"/>
<path d="M2367.6 777.9L2371.3 779.7L2375.7 786.0L2373.2 786.6L2369.4 782.2Z" fill="#e4e5e6" stroke="#e4e5e6" stroke-width="0.7" stroke-linejoin="round"/>
<path d="M2163.7 626.0L2165.6 622.8L2171.8 621.6L2179.3 623.5L2185.5 626.0L2189.9 629.1L2189.2 632.8L2184.3 634.7L2178.0 633.4L2174.3 632.2L2176.8 635.9L2181.8 638.4L2188.0 637.2L2191.7 634.7L2195.5 632.2L2197.3 627.2L2199.2 626.0L2201.7 629.7L2205.4 629.1L2210.4 627.2L2216.6 625.3L2222.9 624.7L2229.1 623.5L2234.1 621.6L2241.6 621.0L2247.8 622.2L2251.5 624.7L2250.3 619.7L2247.8 616.0L2250.3 612.3L2255.3 608.5L2260.0 607.9L2259.9 608.5L2260.6 619.7L2263.7 627.2L2268.0 624.7L2262.4 619.7L2261.8 613.5L2266.2 609.8L2266.8 613.5L2272.4 611.0L2278.6 612.3L2282.4 614.8L2278.0 607.9L2283.6 605.4L2291.1 603.5L2290.5 601.0L2298.6 597.3L2307.3 594.8L2317.2 592.9L2324.7 589.8L2329.7 587.1L2335.9 589.2L2343.4 591.1L2349.6 593.6L2351.5 597.3L2345.9 601.0L2339.7 604.8L2334.7 607.3L2343.4 604.8L2352.1 605.4L2359.6 604.8L2367.1 607.3L2373.9 604.8L2380.8 606.0L2385.8 608.5L2387.0 613.5L2390.7 616.0L2393.2 613.5L2400.7 614.1L2406.9 612.3L2411.9 609.1L2419.4 609.8L2426.9 611.0L2433.1 613.5L2439.3 616.0L2446.8 616.0L2451.8 618.5L2456.8 622.8L2464.3 621.6L2471.7 621.6L2476.7 623.5L2478.0 620.4L2484.2 621.0L2491.7 621.6L2499.1 624.7L2505.4 627.8L2510.3 631.6L2516.6 633.4L2520.3 635.3L2516.6 638.4L2514.1 641.5L2507.9 639.0L2501.6 635.9L2500.4 638.4L2495.4 639.7L2490.4 641.5L2494.2 645.3L2496.6 647.1L2489.2 649.6L2482.9 652.1L2476.7 655.9L2470.5 655.9L2464.3 658.4L2460.5 663.3L2459.3 669.6L2454.3 674.6L2449.3 679.5L2446.2 683.9L2444.3 673.3L2445.6 665.8L2451.8 660.8L2456.8 655.9L2461.8 650.9L2463.0 647.8L2456.8 652.1L2451.8 650.9L2445.6 653.4L2440.6 658.4L2434.4 659.0L2424.4 659.0L2415.7 659.6L2408.2 665.8L2399.5 672.7L2404.5 674.6L2409.4 675.2L2412.5 678.3L2411.9 685.8L2409.4 692.0L2405.7 698.2L2399.5 704.5L2394.5 706.9L2390.7 705.7L2390.1 702.0L2394.5 698.2L2397.6 692.6L2393.2 694.5L2389.5 693.2L2385.8 689.5L2382.0 685.8L2379.5 679.5L2374.6 677.0L2368.3 677.7L2365.8 683.3L2362.1 688.3L2355.9 692.0L2357.1 688.9L2352.1 687.0L2345.9 688.9L2337.2 687.6L2329.7 685.8L2324.7 683.3L2319.7 681.4L2316.0 684.5L2309.8 686.4L2303.5 685.1L2298.6 687.0L2293.6 688.9L2289.8 687.0L2283.6 685.1L2277.4 684.5L2273.6 679.5L2269.9 673.9L2264.9 675.8L2258.7 673.9L2252.5 671.4L2246.2 672.7L2240.0 673.9L2252.8 671.4L2245.3 673.3L2237.8 675.8L2232.8 679.5L2225.5 684.1L2220.9 684.1L2216.9 682.4L2213.5 682.7L2209.5 684.1L2206.8 686.1L2204.2 686.7L2203.2 689.4L2202.8 692.1L2204.8 694.7L2207.5 696.1L2206.8 698.1L2204.8 700.7L2202.8 702.7L2203.5 705.4L2205.5 707.4L2206.2 709.8L2204.8 710.8L2200.8 708.8L2195.5 707.4L2191.5 706.1L2187.5 704.1L2183.5 702.1L2181.5 700.1L2182.8 698.7L2183.5 696.7L2184.8 694.7L2186.8 692.7L2188.1 690.1L2187.5 688.1L2183.5 687.1L2179.5 686.4L2176.8 684.7L2175.5 682.1L2172.8 680.7L2169.5 679.4L2171.5 678.7L2170.8 676.7L2168.8 674.7L2167.5 671.4L2164.8 669.4L2161.8 668.0L2160.8 664.0L2161.1 660.0L2162.1 657.0L2164.3 654.0L2167.4 650.3L2168.1 645.9L2166.2 639.7L2165.6 632.2Z" fill="#e298a9" stroke="#e298a9" stroke-width="0.7" stroke-linejoin="round"/>
<path d="M2329.7 682.4L2334.7 679.5L2339.7 674.6L2342.8 669.9L2341.9 676.0L2337.4 680.4L2332.4 683.0Z" fill="#ffffff" stroke="#ffffff" stroke-width="0.7" stroke-linejoin="round"/>
<path d="M2177.4 635.9L2183.0 639.0L2188.6 637.8L2185.5 640.3L2180.5 641.5L2178.0 643.4L2176.2 639.7Z" fill="#ffffff" stroke="#ffffff" stroke-width="0.7" stroke-linejoin="round"/>
<path d="M2263.7 716.3L2269.9 713.2L2277.4 708.2L2279.9 700.7L2286.1 697.0L2292.3 690.1L2298.6 695.1L2301.0 700.7L2309.8 703.2L2313.5 706.9L2324.7 708.2L2332.2 710.1L2339.7 708.2L2345.9 704.4L2349.6 702.0L2357.1 699.5L2364.6 695.7L2359.6 693.2L2355.9 692.2L2362.1 688.3L2365.8 683.3L2368.3 677.7L2374.5 677.0L2379.5 679.5L2382.0 685.8L2385.8 689.5L2389.5 693.2L2393.2 694.5L2397.6 692.6L2394.5 698.2L2390.1 702.0L2390.7 705.7L2387.0 708.2L2382.0 710.7L2377.0 714.4L2372.1 716.9L2368.6 718.9L2364.6 717.6L2359.8 719.2L2363.0 721.6L2367.1 722.6L2371.5 722.3L2366.5 725.2L2364.4 727.0L2363.2 729.9L2366.9 733.6L2368.8 737.4L2368.2 742.4L2365.7 747.3L2362.0 752.3L2357.0 756.1L2350.7 757.9L2344.5 759.8L2343.3 762.3L2339.5 760.4L2335.8 758.6L2332.1 756.7L2327.1 757.9L2323.3 759.8L2320.8 756.7L2318.4 752.3L2316.5 747.3L2314.6 743.6L2310.9 741.7L2305.9 743.0L2299.7 744.2L2294.7 744.2L2287.2 741.7L2281.0 739.2L2277.2 737.4L2274.7 733.6L2273.5 729.9L2271.0 726.8L2268.5 723.7L2265.4 719.9Z" fill="#b497c2" stroke="#b497c2" stroke-width="0.7" stroke-linejoin="round"/>
<path d="M2273.5 729.9L2271.0 726.8L2267.3 728.7L2263.5 729.9L2264.2 734.9L2266.0 738.6L2262.3 742.4L2258.6 744.9L2254.2 747.3L2255.4 751.1L2256.7 753.6L2251.7 754.8L2251.1 756.7L2254.8 758.6L2253.6 760.4L2256.1 761.7L2258.6 759.8L2260.4 762.3L2261.0 767.3L2262.3 773.5L2264.8 779.7L2267.9 786.0L2270.4 789.7L2273.5 787.2L2275.4 783.5L2276.6 778.5L2277.2 773.5L2282.2 769.8L2287.2 765.4L2290.9 761.0L2294.1 758.6L2295.3 754.8L2294.1 749.8L2289.7 748.0L2284.7 746.1L2279.7 744.2L2277.2 741.1L2277.2 737.4L2274.8 733.6Z" fill="#e298a9" stroke="#e298a9" stroke-width="0.7" stroke-linejoin="round"/>
<path d="M2295.3 749.2L2299.7 748.0L2304.7 745.5L2308.4 742.4L2311.5 741.7L2314.0 744.2L2310.9 746.7L2308.4 749.8L2305.9 753.6L2304.7 756.7L2302.8 754.8L2304.0 751.1L2299.7 751.1L2295.9 751.7Z" fill="#e298a9" stroke="#e298a9" stroke-width="0.7" stroke-linejoin="round"/>
<path d="M2086.7 726.1L2092.3 724.3L2099.8 723.6L2107.2 723.0L2116.0 722.6L2120.9 722.1L2122.8 726.1L2121.6 729.9L2124.1 733.0L2125.9 733.0L2130.9 733.6L2135.9 736.7L2142.1 738.6L2145.2 734.2L2149.6 733.0L2154.6 734.9L2160.8 736.7L2167.0 737.3L2171.4 736.7L2175.8 738.0L2177.6 738.6L2174.5 739.8L2173.3 743.6L2175.1 747.3L2178.3 753.5L2182.0 761.0L2185.7 767.2L2189.5 772.2L2192.0 776.0L2194.5 779.7L2192.0 782.2L2196.9 783.4L2204.4 784.1L2212.5 782.2L2211.9 787.2L2208.2 793.4L2203.8 799.6L2198.2 804.6L2193.2 809.0L2190.7 811.5L2187.6 815.8L2185.1 820.8L2186.4 825.8L2187.6 830.8L2188.8 835.8L2189.5 841.4L2187.0 845.1L2181.4 848.8L2177.6 853.2L2175.8 855.7L2177.6 859.4L2177.7 858.9L2177.7 863.4L2174.8 864.9L2171.3 866.4L2171.8 869.9L2169.3 873.9L2166.3 878.4L2162.8 882.4L2158.8 885.3L2153.8 886.6L2147.8 887.3L2142.9 888.6L2140.9 886.8L2139.9 883.9L2138.9 879.9L2136.9 875.4L2134.4 871.9L2132.4 867.9L2131.4 861.9L2129.9 856.9L2126.9 851.0L2124.9 847.5L2127.8 838.3L2129.7 833.3L2128.4 825.8L2125.9 819.6L2122.2 814.6L2119.1 810.2L2120.3 807.1L2120.9 802.1L2119.1 798.6L2114.7 798.4L2111.0 796.5L2107.2 794.4L2101.0 795.3L2094.8 797.4L2088.6 797.1L2082.3 798.4L2076.1 794.7L2071.1 789.7L2067.4 784.7L2063.0 780.9L2061.1 774.7L2063.0 767.2L2061.1 761.0L2063.6 757.3L2067.4 751.0L2072.4 744.8L2077.3 739.8L2078.0 736.1L2081.1 731.1Z" fill="#b497c2" stroke="#b497c2" stroke-width="0.7" stroke-linejoin="round"/>
<path d="M2116.6 722.6L2120.9 722.1L2122.8 726.1L2121.6 729.9L2124.1 733.0L2122.8 735.8L2121.6 739.2L2119.7 734.9L2116.0 731.1L2117.2 727.4Z" fill="#c8cacc" stroke="#c8cacc" stroke-width="0.7" stroke-linejoin="round"/>
<path d="M2192.0 782.2L2196.9 783.4L2204.4 784.1L2212.5 782.2L2211.9 787.2L2208.2 793.4L2203.8 799.6L2198.2 804.6L2193.2 809.0L2190.7 811.5L2190.1 808.4L2190.7 802.1L2194.5 798.4L2199.4 795.9L2203.8 790.9L2199.4 788.4L2195.7 784.7Z" fill="#c8cacc" stroke="#c8cacc" stroke-width="0.7" stroke-linejoin="round"/>
<path d="M2169.5 808.4L2173.9 807.7L2174.5 812.7L2170.2 814.0Z" fill="#ffffff" stroke="#ffffff" stroke-width="0.7" stroke-linejoin="round"/>
<path d="M2167.7 804.0L2164.6 809.6L2163.9 817.1L2166.4 825.8L2167.7 827.7" fill="none" stroke="#ffffff" stroke-width="0.8"/>
<path d="M2174.5 830.8L2175.8 835.8L2176.8 839.5" fill="none" stroke="#ffffff" stroke-width="0.9"/>
<path d="M2195.7 722.4L2198.2 726.1L2201.9 731.1L2204.4 736.1L2205.7 739.8L2203.2 741.1L2206.9 744.8L2210.6 751.0L2213.8 756.0L2218.1 757.9L2221.2 759.8L2220.0 763.5L2214.4 764.8L2209.4 766.0L2204.4 768.5L2198.2 769.7L2194.5 769.7L2191.3 764.8L2187.0 757.3L2182.6 748.6L2178.3 742.3L2177.6 738.6L2180.7 736.1L2185.7 732.4L2184.5 727.4L2190.7 724.3Z" fill="#b497c2" stroke="#b497c2" stroke-width="0.7" stroke-linejoin="round"/>
<path d="M2196.9 847.0L2201.9 843.2L2206.9 838.3L2208.8 836.4L2210.6 842.0L2208.2 849.5L2205.7 856.9L2203.2 864.4L2199.4 866.3L2196.3 863.2L2195.7 856.9L2197.6 852.0Z" fill="#c8cacc" stroke="#c8cacc" stroke-width="0.7" stroke-linejoin="round"/>
<path d="M2161.4 706.8L2162.8 704.1L2163.5 701.4L2166.1 698.7L2168.8 697.4L2171.5 698.7L2172.1 699.1L2173.8 702.1L2175.8 701.7L2176.8 700.1L2179.5 698.7L2182.8 697.1L2183.5 698.7L2181.5 700.4L2183.5 702.4L2187.5 704.4L2191.5 706.4L2192.2 708.8L2190.2 710.8L2186.1 711.8L2182.1 711.4L2178.1 710.1L2174.1 709.4L2170.1 710.1L2166.1 711.4L2162.8 710.8L2160.8 709.4Z" fill="#ffffff" stroke="#ffffff" stroke-width="0.7" stroke-linejoin="round"/>
<path d="M2203.5 701.4L2206.2 698.7L2209.5 696.7L2213.5 696.1L2216.9 696.7L2214.8 699.4L2212.2 701.4L2211.5 704.1L2213.5 706.8L2216.2 709.4L2218.9 712.8L2219.5 716.8L2218.9 720.8L2216.2 723.4L2212.8 723.4L2209.5 721.4L2208.2 718.1L2207.5 714.1L2206.2 710.8L2206.8 709.8L2205.8 707.4L2203.5 705.4L2202.8 703.1Z" fill="#ffffff" stroke="#ffffff" stroke-width="0.7" stroke-linejoin="round"/>
<path d="M2351.4 858.8L2354.4 856.3L2359.9 854.4L2365.8 852.9L2369.8 849.9L2371.3 846.4L2374.8 843.9L2377.8 840.9L2380.8 839.4L2383.8 841.9L2386.3 840.9L2388.8 837.4L2392.8 835.4L2397.7 835.9L2401.7 836.4L2399.7 840.4L2402.7 843.4L2406.7 845.9L2410.2 847.9L2412.2 845.4L2413.2 839.9L2414.7 832.4L2416.7 835.9L2418.2 839.9L2420.7 842.9L2422.7 848.4L2424.7 851.9L2428.6 854.9L2431.6 858.8L2435.6 862.8L2438.1 865.8L2439.1 871.8L2438.6 877.8L2436.6 882.8L2434.1 887.2L2432.1 892.7L2431.1 895.7L2427.6 896.7L2423.7 898.7L2420.7 896.7L2416.7 898.2L2411.7 896.7L2409.2 893.7L2407.7 889.7L2405.7 885.7L2404.2 884.3L2402.2 888.7L2399.7 888.2L2396.7 883.8L2392.8 881.3L2387.8 880.8L2381.8 882.3L2375.8 884.3L2371.8 886.5L2366.8 886.9L2361.9 888.7L2357.9 889.2L2354.4 887.2L2356.4 884.8L2355.9 879.8L2354.4 874.8L2352.4 869.8L2350.9 864.8Z" fill="#769bd0" stroke="#769bd0" stroke-width="0.7" stroke-linejoin="round"/>
<path d="M2420.2 904.2L2423.7 904.7L2427.6 903.7L2427.6 908.2L2424.7 911.5L2422.2 909.7Z" fill="#769bd0" stroke="#769bd0" stroke-width="0.7" stroke-linejoin="round"/>
<path d="M2482.5 888.7L2485.4 890.7L2488.4 894.7L2491.4 896.7L2494.6 896.2L2492.9 899.7L2490.4 903.7L2487.9 905.7L2486.4 902.7L2484.5 900.2L2485.9 897.7L2485.0 893.7Z" fill="#c8cacc" stroke="#c8cacc" stroke-width="0.7" stroke-linejoin="round"/>
<path d="M2481.5 904.2L2485.0 905.7L2483.5 909.7L2480.5 913.7L2477.5 917.6L2474.0 919.6L2470.5 919.1L2468.5 917.6L2471.5 914.2L2475.5 911.7L2479.0 908.2Z" fill="#769bd0" stroke="#769bd0" stroke-width="0.7" stroke-linejoin="round"/>
<path d="M2463.0 853.9L2464.5 854.4L2469.2 858.5L2468.3 859.0Z" fill="#769bd0" stroke="#769bd0" stroke-width="0.7" stroke-linejoin="round"/>
<path d="M2390.3 810.0L2396.2 810.0L2396.7 815.0L2399.7 816.0L2404.7 812.0L2410.7 814.0L2416.7 816.0L2422.7 819.0L2426.1 822.5L2423.7 824.0L2427.1 827.4L2432.6 831.4L2427.6 830.4L2423.7 826.9L2419.7 825.4L2416.7 828.4L2411.7 828.4L2407.7 825.9L2404.7 826.4L2406.7 824.5L2403.7 821.0L2398.7 818.5L2394.3 816.5L2391.8 813.5Z" fill="#769bd0" stroke="#769bd0" stroke-width="0.7" stroke-linejoin="round"/>
<path d="M2390.6 810.3L2393.7 809.6L2396.8 811.5L2395.6 814.6L2392.5 814.0Z" fill="#769bd0" stroke="#769bd0" stroke-width="0.7" stroke-linejoin="round"/>
<path d="M2333.3 822.7L2339.5 822.7L2347.0 824.0L2353.2 825.8L2360.7 827.1L2368.2 827.1L2376.9 826.5L2380.6 827.1L2374.4 828.9L2366.9 829.6L2359.5 828.3L2352.0 827.3L2343.3 825.8L2335.8 824.6Z" fill="#769bd0" stroke="#769bd0" stroke-width="0.7" stroke-linejoin="round"/>
<path d="M2492.4 847.9L2495.4 845.9L2497.6 845.1L2496.9 846.9L2493.9 849.1Z" fill="#d9dadc" stroke="#d9dadc" stroke-width="0.7" stroke-linejoin="round"/>
<path d="M2122.8 735.8L2121.6 739.2L2120.9 748.6L2125.9 754.8L2133.4 757.3" fill="none" stroke="#c9b5d5" stroke-width="0.6" stroke-linejoin="round"/>
<path d="M2154.6 734.9L2154.0 763.5" fill="none" stroke="#c9b5d5" stroke-width="0.6" stroke-linejoin="round"/>
<path d="M2133.4 757.3L2152.1 763.5L2154.0 763.5L2184.5 763.5" fill="none" stroke="#c9b5d5" stroke-width="0.6" stroke-linejoin="round"/>
<path d="M2072.4 744.8L2079.8 746.1L2107.2 764.8L2125.9 754.8" fill="none" stroke="#c9b5d5" stroke-width="0.6" stroke-linejoin="round"/>
<path d="M2107.2 764.8L2109.7 777.2L2129.7 779.7L2133.4 767.2L2133.4 757.3" fill="none" stroke="#c9b5d5" stroke-width="0.6" stroke-linejoin="round"/>
<path d="M2152.1 763.5L2150.8 777.2L2148.4 782.2L2153.3 788.4" fill="none" stroke="#c9b5d5" stroke-width="0.6" stroke-linejoin="round"/>
<path d="M2109.7 777.2L2107.2 794.4" fill="none" stroke="#c9b5d5" stroke-width="0.6" stroke-linejoin="round"/>
<path d="M2129.7 779.7L2132.2 793.4L2139.6 798.4L2154.6 795.9L2162.1 799.6" fill="none" stroke="#c9b5d5" stroke-width="0.6" stroke-linejoin="round"/>
<path d="M2139.6 798.4L2135.9 814.6L2127.2 819.6" fill="none" stroke="#c9b5d5" stroke-width="0.6" stroke-linejoin="round"/>
<path d="M2135.9 814.6L2148.4 827.0L2149.6 834.5L2162.1 837.0L2173.3 830.8" fill="none" stroke="#c9b5d5" stroke-width="0.6" stroke-linejoin="round"/>
<path d="M2174.5 812.7L2190.7 811.5" fill="none" stroke="#c9b5d5" stroke-width="0.6" stroke-linejoin="round"/>
<path d="M2170.2 814.0L2185.1 820.8" fill="none" stroke="#c9b5d5" stroke-width="0.6" stroke-linejoin="round"/>
<path d="M2172.0 787.2L2179.5 795.9L2190.7 802.1" fill="none" stroke="#c9b5d5" stroke-width="0.6" stroke-linejoin="round"/>
<path d="M2185.7 767.2L2180.7 777.2L2172.0 787.2L2162.1 799.6" fill="none" stroke="#c9b5d5" stroke-width="0.6" stroke-linejoin="round"/>
<path d="M2125.9 848.2L2147.1 848.2L2155.8 845.7" fill="none" stroke="#c9b5d5" stroke-width="0.6" stroke-linejoin="round"/>
<path d="M2145.9 849.5L2144.6 869.4" fill="none" stroke="#c9b5d5" stroke-width="0.6" stroke-linejoin="round"/>
<path d="M2144.6 869.4L2154.6 864.4L2164.6 858.2L2172.0 852.0L2175.8 855.7" fill="none" stroke="#c9b5d5" stroke-width="0.6" stroke-linejoin="round"/>
<path d="M2162.1 837.0L2167.0 844.5L2172.0 852.0" fill="none" stroke="#c9b5d5" stroke-width="0.6" stroke-linejoin="round"/>
<path d="M2086.7 726.1L2094.8 731.1L2096.0 727.4" fill="none" stroke="#c9b5d5" stroke-width="0.6" stroke-linejoin="round"/>
<path d="M2067.4 751.0L2082.3 749.8L2084.8 759.8" fill="none" stroke="#c9b5d5" stroke-width="0.6" stroke-linejoin="round"/>
<path d="M2084.8 759.8L2087.3 774.7L2099.8 777.2L2109.7 777.2" fill="none" stroke="#c9b5d5" stroke-width="0.6" stroke-linejoin="round"/>
<path d="M2087.3 774.7L2082.3 784.7L2088.6 797.1" fill="none" stroke="#c9b5d5" stroke-width="0.6" stroke-linejoin="round"/>
<path d="M2099.8 777.2L2097.3 797.1" fill="none" stroke="#c9b5d5" stroke-width="0.6" stroke-linejoin="round"/>
<path d="M2153.3 788.4L2162.1 787.2L2172.0 787.2" fill="none" stroke="#c9b5d5" stroke-width="0.6" stroke-linejoin="round"/>
<path d="M2153.3 788.4L2154.6 795.9" fill="none" stroke="#c9b5d5" stroke-width="0.6" stroke-linejoin="round"/>
<path d="M2162.1 799.6L2167.7 804.0" fill="none" stroke="#c9b5d5" stroke-width="0.6" stroke-linejoin="round"/>
<ellipse cx="2161.6" cy="875.6" rx="2.6" ry="1.8" fill="none" stroke="#e6dced" stroke-width="0.8" transform="rotate(-35 2161.6 875.6)"/>
<path d="M2096.7 706.8L2106.0 708.1" fill="none" stroke="#e3e4e6" stroke-width="0.5" stroke-linejoin="round"/>
<path d="M2104.0 684.7L2112.7 690.7L2116.7 691.4L2116.1 695.4L2112.7 697.4L2114.1 702.7" fill="none" stroke="#e3e4e6" stroke-width="0.5" stroke-linejoin="round"/>
<path d="M2112.7 678.0L2114.1 682.7L2112.7 686.7L2116.7 691.4" fill="none" stroke="#e3e4e6" stroke-width="0.5" stroke-linejoin="round"/>
<path d="M2116.7 691.4L2122.1 693.4L2127.4 692.1L2130.1 689.4L2132.1 684.1L2130.7 677.4" fill="none" stroke="#e3e4e6" stroke-width="0.5" stroke-linejoin="round"/>
<path d="M2132.1 684.1L2140.1 688.1L2148.8 689.4L2152.8 684.1L2150.8 680.1L2151.4 675.4L2156.1 673.4L2158.8 669.4" fill="none" stroke="#e3e4e6" stroke-width="0.5" stroke-linejoin="round"/>
<path d="M2139.4 673.4L2140.8 674.7L2150.8 674.7" fill="none" stroke="#e3e4e6" stroke-width="0.5" stroke-linejoin="round"/>
<path d="M2127.4 692.1L2135.4 690.7L2140.1 688.1" fill="none" stroke="#e3e4e6" stroke-width="0.5" stroke-linejoin="round"/>
<path d="M2122.1 693.4L2126.7 695.4L2134.1 696.7L2140.8 692.7L2148.8 689.4" fill="none" stroke="#e3e4e6" stroke-width="0.5" stroke-linejoin="round"/>
<path d="M2134.1 696.7L2136.8 700.1L2142.1 698.7L2146.1 697.4L2148.8 693.4L2158.8 692.1L2162.8 697.4L2166.1 698.7" fill="none" stroke="#e3e4e6" stroke-width="0.5" stroke-linejoin="round"/>
<path d="M2146.1 697.4L2150.1 703.4L2148.8 706.8L2156.1 704.7L2162.8 704.1" fill="none" stroke="#e3e4e6" stroke-width="0.5" stroke-linejoin="round"/>
<path d="M2148.8 706.8L2145.4 710.8L2143.4 709.4" fill="none" stroke="#e3e4e6" stroke-width="0.5" stroke-linejoin="round"/>
<path d="M2145.4 710.8L2147.4 713.4L2154.8 712.8" fill="none" stroke="#e3e4e6" stroke-width="0.5" stroke-linejoin="round"/>
<path d="M2152.8 684.1L2158.8 681.4L2167.5 682.7L2171.5 678.7" fill="none" stroke="#e3e4e6" stroke-width="0.5" stroke-linejoin="round"/>
<path d="M2148.8 689.4L2152.8 693.4L2158.8 692.1" fill="none" stroke="#e3e4e6" stroke-width="0.5" stroke-linejoin="round"/>
<path d="M2147.1 665.7L2155.4 666.7L2161.8 668.0" fill="none" stroke="#e3e4e6" stroke-width="0.5" stroke-linejoin="round"/>
<path d="M2148.4 663.7L2156.8 663.4L2161.1 660.0" fill="none" stroke="#e3e4e6" stroke-width="0.5" stroke-linejoin="round"/>
<path d="M2150.8 680.1L2158.8 681.4" fill="none" stroke="#e3e4e6" stroke-width="0.5" stroke-linejoin="round"/>
<path d="M2179.5 725.4L2187.5 724.1L2195.5 720.1L2199.5 718.8L2196.8 713.4L2198.2 710.8L2204.8 710.8" fill="none" stroke="#e3e4e6" stroke-width="0.5" stroke-linejoin="round"/>
<path d="M2240.0 673.9L2246.2 682.0L2255.0 685.8L2263.7 695.7L2262.4 700.7L2271.1 705.7L2277.4 708.2" fill="none" stroke="#e3e4e6" stroke-width="0.5" stroke-linejoin="round"/>
<path d="M2262.4 700.7L2255.0 705.7L2247.5 704.5L2240.0 708.2" fill="none" stroke="#e3e4e6" stroke-width="0.5" stroke-linejoin="round"/>
<path d="M2255.0 705.7L2258.7 714.4L2253.7 720.6L2263.7 716.3" fill="none" stroke="#e3e4e6" stroke-width="0.5" stroke-linejoin="round"/>
<path d="M2247.5 704.5L2245.0 714.4L2240.0 716.9" fill="none" stroke="#e3e4e6" stroke-width="0.5" stroke-linejoin="round"/>
<path d="M2253.7 720.6L2247.5 726.9L2250.0 730.0" fill="none" stroke="#e3e4e6" stroke-width="0.5" stroke-linejoin="round"/>
<path d="M2236.1 750.5L2238.6 741.1L2234.9 734.9L2236.1 724.9L2243.6 722.4L2252.3 724.9L2258.6 718.7L2263.5 716.2" fill="none" stroke="#e3e4e6" stroke-width="0.5" stroke-linejoin="round"/>
<path d="M2236.1 724.9L2224.9 719.9L2219.9 712.5L2223.7 705.0" fill="none" stroke="#e3e4e6" stroke-width="0.5" stroke-linejoin="round"/>
<path d="M2238.6 741.1L2249.8 739.9L2258.6 744.9" fill="none" stroke="#e3e4e6" stroke-width="0.5" stroke-linejoin="round"/>
<path d="M2252.3 724.9L2254.8 732.4L2249.8 739.9" fill="none" stroke="#e3e4e6" stroke-width="0.5" stroke-linejoin="round"/>
<path d="M2315.9 767.3L2319.6 762.3L2323.3 759.8" fill="none" stroke="#e3e4e6" stroke-width="0.5" stroke-linejoin="round"/>
<path d="M2317.7 771.0L2324.6 769.8L2328.3 764.8L2332.1 756.7" fill="none" stroke="#e3e4e6" stroke-width="0.5" stroke-linejoin="round"/>
<path d="M2328.3 764.8L2334.6 769.8L2335.8 766.0" fill="none" stroke="#e3e4e6" stroke-width="0.5" stroke-linejoin="round"/>
<path d="M2324.6 769.8L2329.6 777.2L2335.8 779.7L2339.5 784.7" fill="none" stroke="#e3e4e6" stroke-width="0.5" stroke-linejoin="round"/>
</g>
</svg>
</body></html>
